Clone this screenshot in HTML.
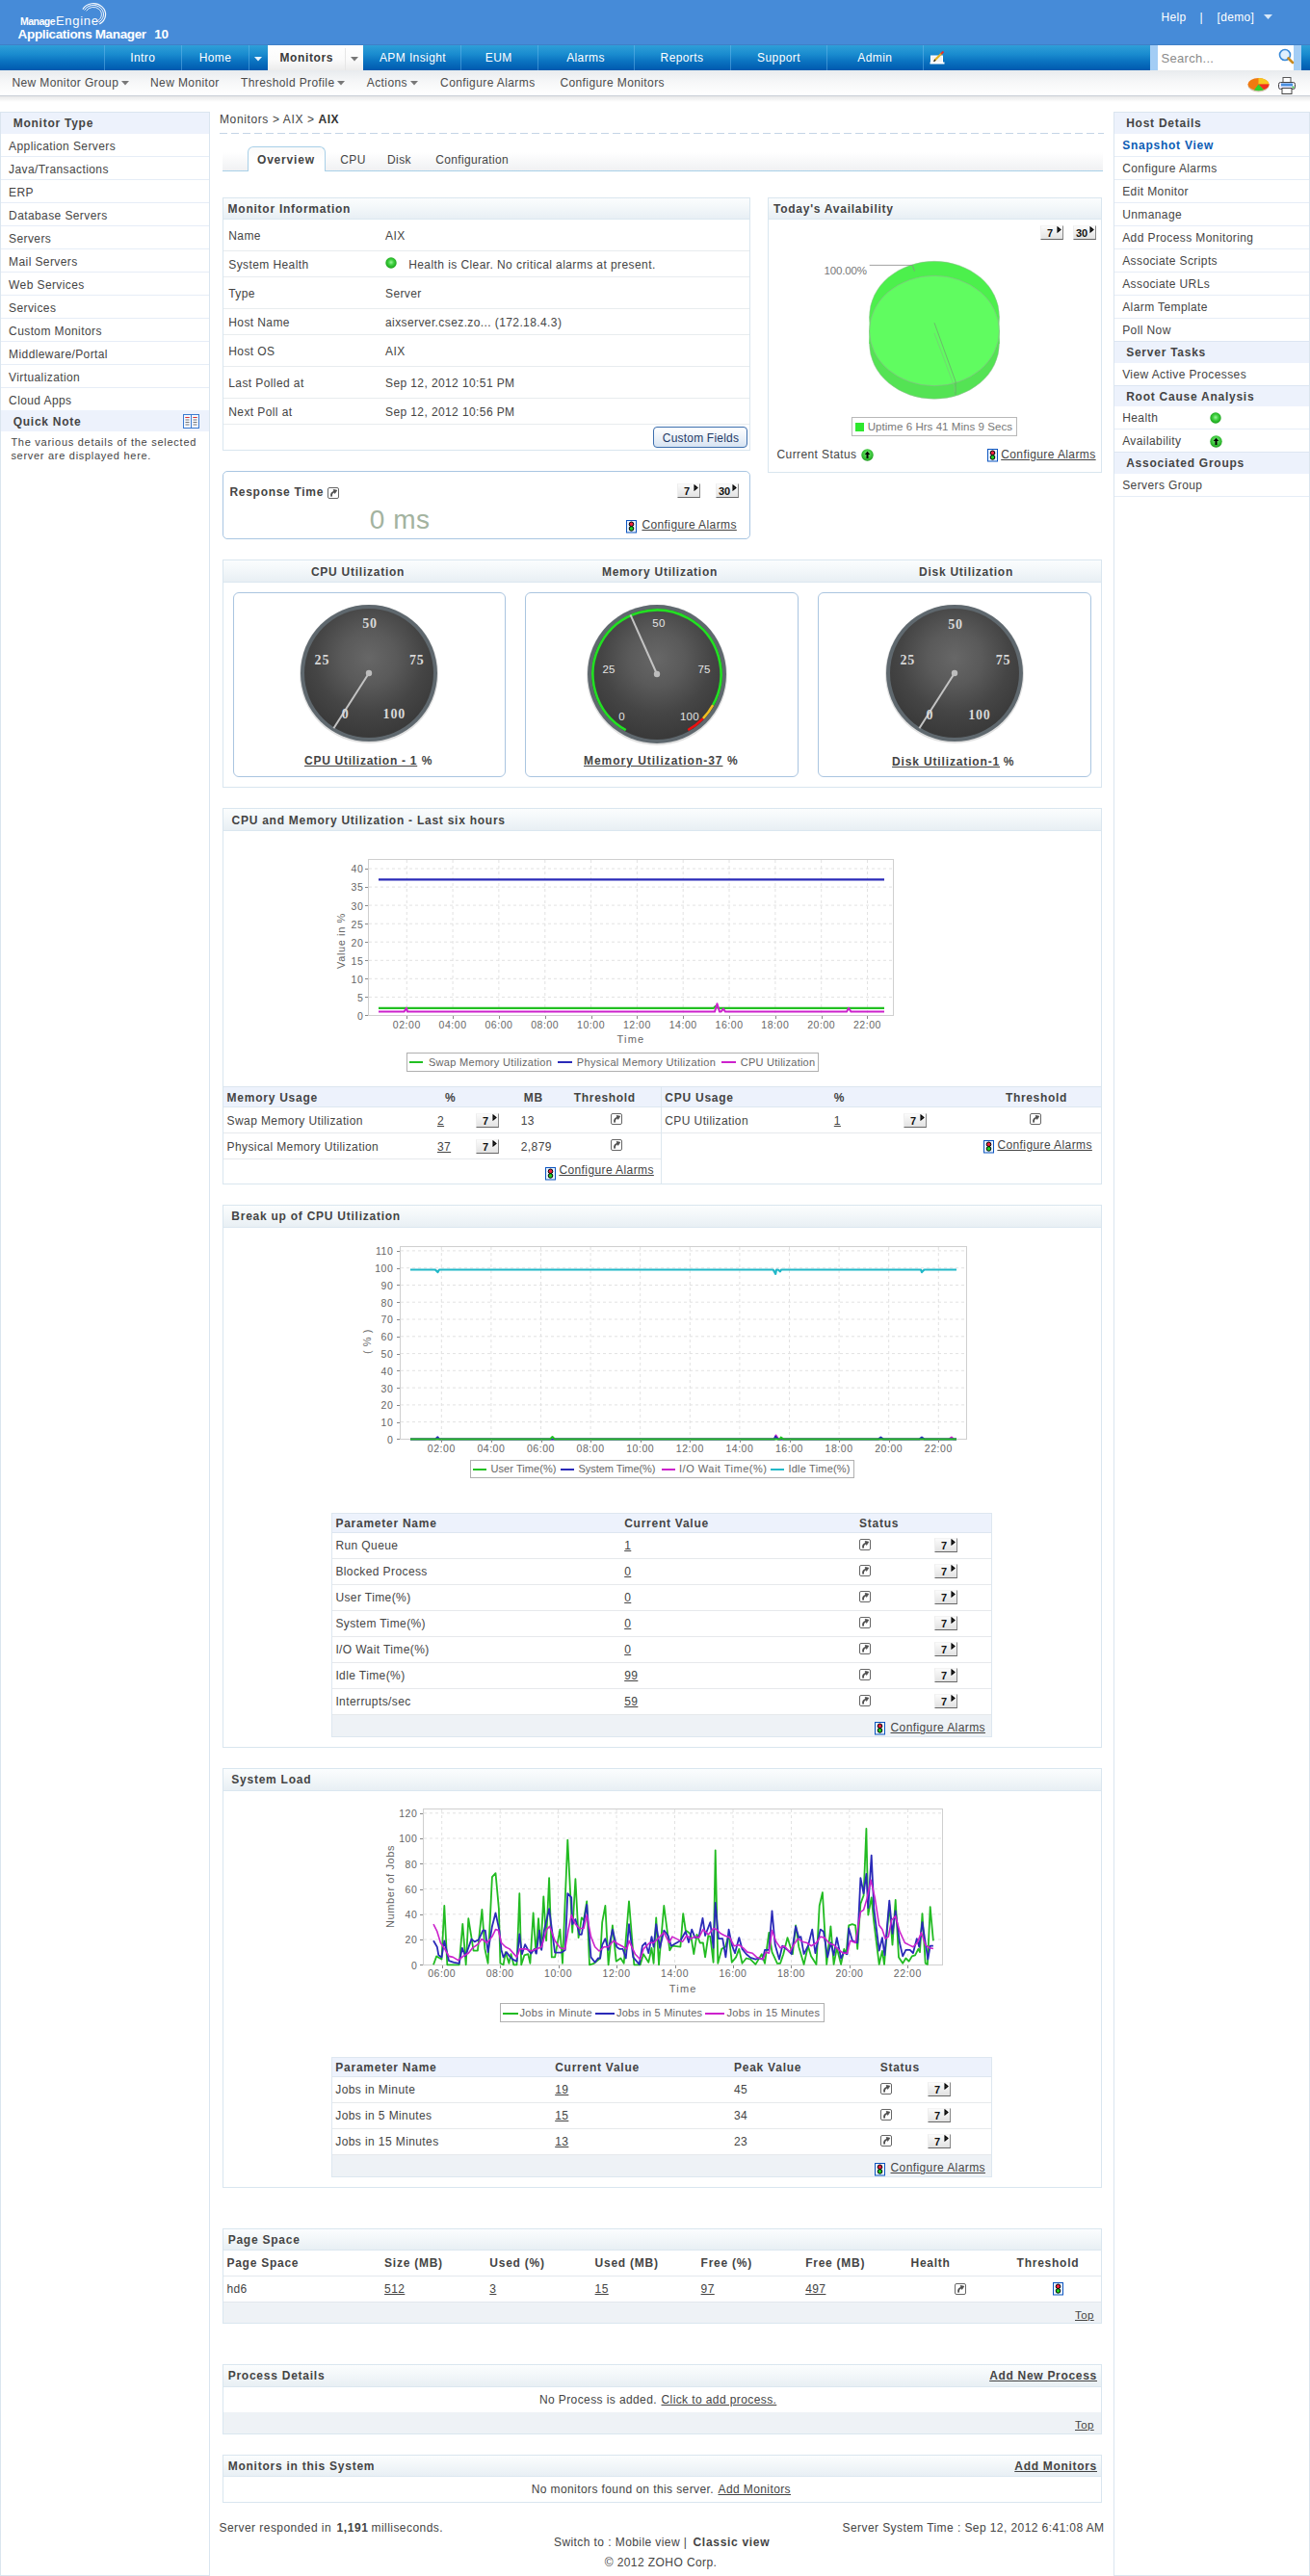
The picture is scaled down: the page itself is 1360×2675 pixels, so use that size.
<!DOCTYPE html>
<html><head><meta charset="utf-8"><title>Applications Manager - AIX</title>
<style>
html,body{margin:0;padding:0;background:#fff;}
body{width:1360px;height:2675px;position:relative;overflow:hidden;font-family:"Liberation Sans",sans-serif;}
.t{position:absolute;white-space:nowrap;margin:0;padding:0;}
.r{position:absolute;display:block;}
</style></head><body>
<div class="r" style="left:0px;top:0px;width:1360px;height:47px;background:#468bd8;"></div>
<div class="r" style="left:0px;top:46px;width:1360px;height:1px;background:#3f7fc6;"></div>
<div class="t" style="left:21.00px;top:16.61px;font-size:10.5px;line-height:10.5px;color:#fff;font-weight:bold;letter-spacing:-0.519px;">Manage</div>
<div class="t" style="left:58.00px;top:14.50px;font-size:13px;line-height:13px;color:#fff;letter-spacing:0.704px;">Engine</div>
<svg class="r" style="left:84px;top:0px;" width="28" height="28" viewBox="0 0 28 28"><path d="M5.6 11.4 A8.4 7.6 0 1 1 17.2 21.6" stroke="#fff" stroke-width="0.9" fill="none" opacity="0.95"/><path d="M3.7 10.5 A10.5 9.5 0 1 1 18.2 23.2" stroke="#fff" stroke-width="1.0" fill="none" opacity="0.95"/><path d="M1.9 9.6 A12.6 11.4 0 1 1 19.3 24.9" stroke="#fff" stroke-width="1.2" fill="none" opacity="0.95"/></svg>
<div class="t" style="left:18.60px;top:29.07px;font-size:13.5px;line-height:13.5px;color:#fff;font-weight:bold;letter-spacing:-0.357px;">Applications Manager</div>
<div class="t" style="left:160.30px;top:29.07px;font-size:13.5px;line-height:13.5px;color:#fff;font-weight:bold;letter-spacing:-0.317px;">10</div>
<div class="t" style="left:1205.50px;top:11.64px;font-size:12px;line-height:12px;color:#fff;letter-spacing:0.3px;">Help</div>
<div class="t" style="left:1245.50px;top:11.64px;font-size:12px;line-height:12px;color:#fff;">|</div>
<div class="t" style="left:1263.50px;top:11.64px;font-size:12px;line-height:12px;color:#fff;letter-spacing:0.35px;">[demo]</div>
<svg class="r" style="left:1312px;top:15px;" width="9" height="5" viewBox="0 0 9 5"><path d="M0 0 L9 0 L4.5 5 Z" fill="#d8e8f8"/></svg>
<div class="r" style="left:0px;top:47px;width:1360px;height:26px;background:linear-gradient(#2f9fd8 0%,#1a8ccf 35%,#0a72c0 65%,#0059ae 100%);"></div>
<div class="r" style="left:108px;top:47px;width:1px;height:26px;background:rgba(120,190,240,0.45);"></div>
<div class="r" style="left:188px;top:47px;width:1px;height:26px;background:rgba(120,190,240,0.45);"></div>
<div class="r" style="left:258px;top:47px;width:1px;height:26px;background:rgba(120,190,240,0.45);"></div>
<div class="r" style="left:358px;top:47px;width:1px;height:26px;background:rgba(120,190,240,0.45);"></div>
<div class="r" style="left:478px;top:47px;width:1px;height:26px;background:rgba(120,190,240,0.45);"></div>
<div class="r" style="left:558px;top:47px;width:1px;height:26px;background:rgba(120,190,240,0.45);"></div>
<div class="r" style="left:658px;top:47px;width:1px;height:26px;background:rgba(120,190,240,0.45);"></div>
<div class="r" style="left:758px;top:47px;width:1px;height:26px;background:rgba(120,190,240,0.45);"></div>
<div class="r" style="left:858px;top:47px;width:1px;height:26px;background:rgba(120,190,240,0.45);"></div>
<div class="r" style="left:958px;top:47px;width:1px;height:26px;background:rgba(120,190,240,0.45);"></div>
<div class="r" style="left:278px;top:47px;width:99px;height:26px;background:linear-gradient(#ffffff 0%,#fbfbfb 55%,#ececec 100%);"></div>
<div class="r" style="left:358px;top:50px;width:1px;height:23px;background:#e6e6e6;"></div>
<div class="t" style="left:148.25px;top:54.34px;font-size:12px;line-height:12px;color:#fff;letter-spacing:0.4px;transform:translateX(-50%);">Intro</div>
<div class="t" style="left:223.50px;top:54.34px;font-size:12px;line-height:12px;color:#fff;letter-spacing:0.4px;transform:translateX(-50%);">Home</div>
<div class="t" style="left:428.50px;top:54.34px;font-size:12px;line-height:12px;color:#fff;letter-spacing:0.4px;transform:translateX(-50%);">APM Insight</div>
<div class="t" style="left:517.75px;top:54.34px;font-size:12px;line-height:12px;color:#fff;letter-spacing:0.4px;transform:translateX(-50%);">EUM</div>
<div class="t" style="left:608.00px;top:54.34px;font-size:12px;line-height:12px;color:#fff;letter-spacing:0.4px;transform:translateX(-50%);">Alarms</div>
<div class="t" style="left:708.00px;top:54.34px;font-size:12px;line-height:12px;color:#fff;letter-spacing:0.4px;transform:translateX(-50%);">Reports</div>
<div class="t" style="left:808.50px;top:54.34px;font-size:12px;line-height:12px;color:#fff;letter-spacing:0.4px;transform:translateX(-50%);">Support</div>
<div class="t" style="left:908.35px;top:54.34px;font-size:12px;line-height:12px;color:#fff;letter-spacing:0.4px;transform:translateX(-50%);">Admin</div>
<div class="t" style="left:318.25px;top:54.14px;font-size:12px;line-height:12px;color:#3a3a3a;font-weight:bold;letter-spacing:0.6px;transform:translateX(-50%);">Monitors</div>
<svg class="r" style="left:264px;top:59px;" width="8" height="5" viewBox="0 0 8 5"><path d="M0 0 L8 0 L4 4.5 Z" fill="#e8f4ff"/></svg>
<svg class="r" style="left:364px;top:59px;" width="8" height="5" viewBox="0 0 8 5"><path d="M0 0 L8 0 L4 4.5 Z" fill="#777"/></svg>
<svg class="r" style="left:965px;top:53px;" width="18" height="14" viewBox="0 0 18 14"><rect x="1.5" y="5" width="12" height="7" fill="#f2f2f2" stroke="#fff"/><rect x="0.5" y="11.5" width="15" height="2" fill="#fff"/><path d="M5 10 L13 2" stroke="#e0b020" stroke-width="2.2"/><path d="M12 3 L14.5 0.5" stroke="#e03030" stroke-width="2"/><path d="M4.5 10.8 L6 9" stroke="#222" stroke-width="1.2"/></svg>
<div class="r" style="left:1194px;top:47px;width:157px;height:26px;background:#a3cdf5;"></div>
<div class="r" style="left:1202px;top:47px;width:141px;height:26px;background:#fff;"></div>
<div class="t" style="left:1205.50px;top:54.10px;font-size:13px;line-height:13px;color:#8a8a8a;letter-spacing:0.3px;">Search...</div>
<svg class="r" style="left:1327px;top:50px;" width="17" height="17" viewBox="0 0 17 17"><circle cx="7" cy="7" r="5.5" fill="#dff0ff" stroke="#3a8ad8" stroke-width="1.6"/><path d="M10.5 10.5 L15 15" stroke="#c98a20" stroke-width="2.6" stroke-linecap="round"/></svg>
<div class="r" style="left:0px;top:73px;width:1360px;height:26px;background:linear-gradient(#e8ebee 0%,#f6f7f8 45%,#ffffff 100%);"></div>
<div class="r" style="left:0px;top:99px;width:1360px;height:1px;background:#c9ced6;"></div>
<div class="r" style="left:0px;top:100px;width:1360px;height:6px;background:linear-gradient(rgba(0,0,0,0.09),rgba(0,0,0,0));"></div>
<div class="t" style="left:12.40px;top:80.24px;font-size:12px;line-height:12px;color:#4a4a4a;letter-spacing:0.4px;">New Monitor Group</div>
<svg class="r" style="left:126px;top:84px;" width="8" height="5" viewBox="0 0 8 5"><path d="M0 0 L8 0 L4 4.5 Z" fill="#777"/></svg>
<div class="t" style="left:156.00px;top:80.24px;font-size:12px;line-height:12px;color:#4a4a4a;letter-spacing:0.4px;">New Monitor</div>
<div class="t" style="left:250.00px;top:80.24px;font-size:12px;line-height:12px;color:#4a4a4a;letter-spacing:0.4px;">Threshold Profile</div>
<svg class="r" style="left:350px;top:84px;" width="8" height="5" viewBox="0 0 8 5"><path d="M0 0 L8 0 L4 4.5 Z" fill="#777"/></svg>
<div class="t" style="left:380.80px;top:80.24px;font-size:12px;line-height:12px;color:#4a4a4a;letter-spacing:0.4px;">Actions</div>
<svg class="r" style="left:426px;top:84px;" width="8" height="5" viewBox="0 0 8 5"><path d="M0 0 L8 0 L4 4.5 Z" fill="#777"/></svg>
<div class="t" style="left:457.10px;top:80.24px;font-size:12px;line-height:12px;color:#4a4a4a;letter-spacing:0.4px;">Configure Alarms</div>
<div class="t" style="left:581.40px;top:80.24px;font-size:12px;line-height:12px;color:#4a4a4a;letter-spacing:0.4px;">Configure Monitors</div>
<svg class="r" style="left:1295px;top:80px;" width="23" height="16" viewBox="0 0 23 16"><ellipse cx="11.5" cy="9" rx="11" ry="6.5" fill="#8a5a20" opacity="0.35"/><ellipse cx="11.5" cy="7.5" rx="11" ry="6.5" fill="#f07a10"/><path d="M11.5 7.5 L11.5 1 A11 6.5 0 0 1 22.5 7.5 Z" fill="#f8c820"/><path d="M11.5 7.5 L22.5 7.5 A11 6.5 0 0 1 17 13 Z" fill="#f03020"/><path d="M11.5 7.5 L17 13.2 A11 6.5 0 0 1 7 13.6 Z" fill="#30d030"/></svg>
<svg class="r" style="left:1327px;top:80px;" width="18" height="18" viewBox="0 0 18 18"><rect x="5" y="0.5" width="8" height="6" fill="#fff" stroke="#555"/><rect x="0.5" y="5.5" width="17" height="7" rx="2" fill="#eef" stroke="#444"/><rect x="3" y="6.5" width="12" height="3" fill="#4a90e0"/><rect x="4" y="11.5" width="10" height="6" fill="#fff" stroke="#444"/><circle cx="15.5" cy="10.5" r="1" fill="#3c3"/></svg>
<div class="r" style="left:0px;top:116px;width:218px;height:2559px;border:1px solid #dae5ef;box-sizing:border-box;"></div>
<div class="r" style="left:1px;top:117px;width:216px;height:22px;background:#edf2fc;"></div>
<div class="t" style="left:13.70px;top:122.34px;font-size:12px;line-height:12px;color:#444;font-weight:bold;letter-spacing:0.75px;">Monitor Type</div>
<div class="t" style="left:9.10px;top:145.64px;font-size:12px;line-height:12px;color:#444;letter-spacing:0.4px;">Application Servers</div>
<div class="r" style="left:1px;top:162px;width:216px;height:1px;background:#e6edf7;"></div>
<div class="t" style="left:9.10px;top:169.64px;font-size:12px;line-height:12px;color:#444;letter-spacing:0.4px;">Java/Transactions</div>
<div class="r" style="left:1px;top:186px;width:216px;height:1px;background:#e6edf7;"></div>
<div class="t" style="left:9.10px;top:193.64px;font-size:12px;line-height:12px;color:#444;letter-spacing:0.4px;">ERP</div>
<div class="r" style="left:1px;top:210px;width:216px;height:1px;background:#e6edf7;"></div>
<div class="t" style="left:9.10px;top:217.64px;font-size:12px;line-height:12px;color:#444;letter-spacing:0.4px;">Database Servers</div>
<div class="r" style="left:1px;top:234px;width:216px;height:1px;background:#e6edf7;"></div>
<div class="t" style="left:9.10px;top:241.64px;font-size:12px;line-height:12px;color:#444;letter-spacing:0.4px;">Servers</div>
<div class="r" style="left:1px;top:258px;width:216px;height:1px;background:#e6edf7;"></div>
<div class="t" style="left:9.10px;top:265.64px;font-size:12px;line-height:12px;color:#444;letter-spacing:0.4px;">Mail Servers</div>
<div class="r" style="left:1px;top:282px;width:216px;height:1px;background:#e6edf7;"></div>
<div class="t" style="left:9.10px;top:289.64px;font-size:12px;line-height:12px;color:#444;letter-spacing:0.4px;">Web Services</div>
<div class="r" style="left:1px;top:306px;width:216px;height:1px;background:#e6edf7;"></div>
<div class="t" style="left:9.10px;top:313.64px;font-size:12px;line-height:12px;color:#444;letter-spacing:0.4px;">Services</div>
<div class="r" style="left:1px;top:330px;width:216px;height:1px;background:#e6edf7;"></div>
<div class="t" style="left:9.10px;top:337.64px;font-size:12px;line-height:12px;color:#444;letter-spacing:0.4px;">Custom Monitors</div>
<div class="r" style="left:1px;top:354px;width:216px;height:1px;background:#e6edf7;"></div>
<div class="t" style="left:9.10px;top:361.64px;font-size:12px;line-height:12px;color:#444;letter-spacing:0.4px;">Middleware/Portal</div>
<div class="r" style="left:1px;top:378px;width:216px;height:1px;background:#e6edf7;"></div>
<div class="t" style="left:9.10px;top:385.64px;font-size:12px;line-height:12px;color:#444;letter-spacing:0.4px;">Virtualization</div>
<div class="r" style="left:1px;top:402px;width:216px;height:1px;background:#e6edf7;"></div>
<div class="t" style="left:9.10px;top:409.64px;font-size:12px;line-height:12px;color:#444;letter-spacing:0.4px;">Cloud Apps</div>
<div class="r" style="left:1px;top:426px;width:216px;height:1px;background:#e6edf7;"></div>
<div class="r" style="left:1px;top:426px;width:216px;height:22px;background:#edf2fc;"></div>
<div class="t" style="left:13.70px;top:432.14px;font-size:12px;line-height:12px;color:#444;font-weight:bold;letter-spacing:0.75px;">Quick Note</div>
<svg class="r" style="left:190px;top:430px;" width="17" height="15" viewBox="0 0 17 15"><rect x="0.5" y="0.5" width="16" height="14" fill="#f4f8ff" stroke="#3a7ad0"/><line x1="8.5" y1="1" x2="8.5" y2="14" stroke="#3a7ad0"/><path d="M2.5 3.5h4M2.5 6h4M2.5 8.5h4M2.5 11h4M10.5 3.5h4M10.5 6h4M10.5 8.5h4M10.5 11h4" stroke="#777" stroke-width="1"/><path d="M2.5 3.5h4M10.5 3.5h4" stroke="#e03030"/></svg>
<div class="t" style="left:11.40px;top:454.09px;font-size:11px;line-height:11px;color:#444;letter-spacing:0.737px;">The various details of the selected</div>
<div class="t" style="left:11.40px;top:468.09px;font-size:11px;line-height:11px;color:#444;letter-spacing:0.713px;">server are displayed here.</div>
<div class="r" style="left:1156px;top:116px;width:204px;height:2559px;border:1px solid #dae5ef;box-sizing:border-box;"></div>
<div class="r" style="left:1157px;top:117px;width:202px;height:22px;background:#edf2fc;"></div>
<div class="t" style="left:1169.20px;top:121.94px;font-size:12px;line-height:12px;color:#444;font-weight:bold;letter-spacing:0.75px;">Host Details</div>
<div class="t" style="left:1165.20px;top:145.34px;font-size:12px;line-height:12px;color:#0b5cb4;font-weight:bold;letter-spacing:0.75px;">Snapshot View</div>
<div class="r" style="left:1157px;top:162px;width:202px;height:1px;background:#e6edf7;"></div>
<div class="t" style="left:1165.20px;top:169.34px;font-size:12px;line-height:12px;color:#444;letter-spacing:0.4px;">Configure Alarms</div>
<div class="r" style="left:1157px;top:186px;width:202px;height:1px;background:#e6edf7;"></div>
<div class="t" style="left:1165.20px;top:193.34px;font-size:12px;line-height:12px;color:#444;letter-spacing:0.4px;">Edit Monitor</div>
<div class="r" style="left:1157px;top:210px;width:202px;height:1px;background:#e6edf7;"></div>
<div class="t" style="left:1165.20px;top:217.34px;font-size:12px;line-height:12px;color:#444;letter-spacing:0.4px;">Unmanage</div>
<div class="r" style="left:1157px;top:234px;width:202px;height:1px;background:#e6edf7;"></div>
<div class="t" style="left:1165.20px;top:241.34px;font-size:12px;line-height:12px;color:#444;letter-spacing:0.4px;">Add Process Monitoring</div>
<div class="r" style="left:1157px;top:258px;width:202px;height:1px;background:#e6edf7;"></div>
<div class="t" style="left:1165.20px;top:265.34px;font-size:12px;line-height:12px;color:#444;letter-spacing:0.4px;">Associate Scripts</div>
<div class="r" style="left:1157px;top:282px;width:202px;height:1px;background:#e6edf7;"></div>
<div class="t" style="left:1165.20px;top:289.34px;font-size:12px;line-height:12px;color:#444;letter-spacing:0.4px;">Associate URLs</div>
<div class="r" style="left:1157px;top:306px;width:202px;height:1px;background:#e6edf7;"></div>
<div class="t" style="left:1165.20px;top:313.34px;font-size:12px;line-height:12px;color:#444;letter-spacing:0.4px;">Alarm Template</div>
<div class="r" style="left:1157px;top:330px;width:202px;height:1px;background:#e6edf7;"></div>
<div class="t" style="left:1165.20px;top:337.34px;font-size:12px;line-height:12px;color:#444;letter-spacing:0.4px;">Poll Now</div>
<div class="r" style="left:1157px;top:354px;width:202px;height:1px;background:#dde6f2;"></div>
<div class="r" style="left:1157px;top:355px;width:202px;height:22px;background:#edf2fc;"></div>
<div class="t" style="left:1169.20px;top:360.04px;font-size:12px;line-height:12px;color:#444;font-weight:bold;letter-spacing:0.75px;">Server Tasks</div>
<div class="t" style="left:1165.20px;top:382.94px;font-size:12px;line-height:12px;color:#444;letter-spacing:0.4px;">View Active Processes</div>
<div class="r" style="left:1157px;top:400px;width:202px;height:1px;background:#dde6f2;"></div>
<div class="r" style="left:1157px;top:401px;width:202px;height:21px;background:#edf2fc;"></div>
<div class="t" style="left:1169.20px;top:405.64px;font-size:12px;line-height:12px;color:#444;font-weight:bold;letter-spacing:0.75px;">Root Cause Analysis</div>
<div class="t" style="left:1165.20px;top:427.84px;font-size:12px;line-height:12px;color:#444;letter-spacing:0.4px;">Health</div>
<svg class="r" style="left:1256px;top:428px;" width="12" height="12" viewBox="0 0 12 12"><defs><radialGradient id="hg1256428" cx="50%" cy="45%" r="55%"><stop offset="0" stop-color="#9af59a"/><stop offset="0.45" stop-color="#3fcf3f"/><stop offset="1" stop-color="#17a017"/></radialGradient></defs><circle cx="6.0" cy="6.0" r="5.7" fill="url(#hg1256428)"/></svg>
<div class="r" style="left:1157px;top:445px;width:202px;height:1px;background:#e6edf7;"></div>
<div class="t" style="left:1165.20px;top:451.84px;font-size:12px;line-height:12px;color:#444;letter-spacing:0.4px;">Availability</div>
<svg class="r" style="left:1256px;top:452px;" width="13" height="13" viewBox="0 0 13 13"><defs><radialGradient id="ug1256452" cx="50%" cy="40%" r="60%"><stop offset="0" stop-color="#7fe87f"/><stop offset="0.6" stop-color="#3cc83c"/><stop offset="1" stop-color="#1e9a1e"/></radialGradient></defs><circle cx="6.5" cy="6.5" r="6.2" fill="url(#ug1256452)"/><path d="M6.5 2.7 L9.3 5.9 L7.5 5.9 L7.5 10.1 L5.5 10.1 L5.5 5.9 L3.7 5.9 Z" fill="#000"/></svg>
<div class="r" style="left:1157px;top:469px;width:202px;height:1px;background:#dde6f2;"></div>
<div class="r" style="left:1157px;top:470px;width:202px;height:22px;background:#edf2fc;"></div>
<div class="t" style="left:1169.20px;top:475.44px;font-size:12px;line-height:12px;color:#444;font-weight:bold;letter-spacing:0.75px;">Associated Groups</div>
<div class="t" style="left:1165.20px;top:497.84px;font-size:12px;line-height:12px;color:#444;letter-spacing:0.4px;">Servers Group</div>
<div class="r" style="left:1157px;top:515px;width:202px;height:1px;background:#e6edf7;"></div>
<div class="t" style="left:228.00px;top:118.34px;font-size:12px;line-height:12px;color:#444;letter-spacing:0.619px;">Monitors &gt; AIX &gt;</div>
<div class="t" style="left:330.50px;top:118.34px;font-size:12px;line-height:12px;color:#333;font-weight:bold;letter-spacing:0.5px;">AIX</div>
<div class="r" style="left:228px;top:138px;width:918px;height:1px;background:repeating-linear-gradient(90deg,#c5d5e6 0 8px,transparent 8px 12px);"></div>
<div class="r" style="left:231px;top:158px;width:914px;height:19px;background:linear-gradient(rgba(255,255,255,1),#f0f1f3);"></div>
<div class="r" style="left:231px;top:177px;width:914px;height:1px;background:#a9d0e8;"></div>
<div class="r" style="left:257px;top:152px;width:81px;height:26px;box-sizing:border-box;border:1px solid #a9d0e8;border-bottom:none;border-radius:6px 6px 0 0;background:linear-gradient(#fafafa,#fff 60%);"></div>
<div class="t" style="left:267.00px;top:160.14px;font-size:12px;line-height:12px;color:#444;font-weight:bold;letter-spacing:0.8px;">Overview</div>
<div class="t" style="left:353.20px;top:160.14px;font-size:12px;line-height:12px;color:#444;letter-spacing:0.4px;">CPU</div>
<div class="t" style="left:402.00px;top:160.14px;font-size:12px;line-height:12px;color:#444;letter-spacing:0.4px;">Disk</div>
<div class="t" style="left:452.20px;top:160.14px;font-size:12px;line-height:12px;color:#444;letter-spacing:0.35px;">Configuration</div>
<div class="r" style="left:231px;top:205px;width:548px;height:263px;border:1px solid #d9e6ef;box-sizing:border-box;"></div>
<div class="r" style="left:232px;top:206px;width:546px;height:21px;background:linear-gradient(#fbfdfe 0%,#f4f8fa 40%,#e8eff4 100%);"></div>
<div class="r" style="left:232px;top:227px;width:546px;height:1px;background:#dbe7f0;"></div>
<div class="t" style="left:236.60px;top:210.94px;font-size:12px;line-height:12px;color:#444;font-weight:bold;letter-spacing:0.75px;">Monitor Information</div>
<div class="t" style="left:237.30px;top:239.04px;font-size:12px;line-height:12px;color:#444;letter-spacing:0.4px;">Name</div>
<div class="t" style="left:400.00px;top:239.04px;font-size:12px;line-height:12px;color:#444;letter-spacing:0.4px;">AIX</div>
<div class="r" style="left:232px;top:260px;width:546px;height:1px;background:#e8ecef;"></div>
<div class="t" style="left:237.30px;top:269.14px;font-size:12px;line-height:12px;color:#444;letter-spacing:0.4px;">System Health</div>
<div class="r" style="left:232px;top:287px;width:546px;height:1px;background:#e8ecef;"></div>
<div class="t" style="left:237.30px;top:299.14px;font-size:12px;line-height:12px;color:#444;letter-spacing:0.4px;">Type</div>
<div class="t" style="left:400.00px;top:299.14px;font-size:12px;line-height:12px;color:#444;letter-spacing:0.4px;">Server</div>
<div class="r" style="left:232px;top:320px;width:546px;height:1px;background:#e8ecef;"></div>
<div class="t" style="left:237.30px;top:328.94px;font-size:12px;line-height:12px;color:#444;letter-spacing:0.4px;">Host Name</div>
<div class="t" style="left:400.00px;top:328.94px;font-size:12px;line-height:12px;color:#444;letter-spacing:0.4px;">aixserver.csez.zo... (172.18.4.3)</div>
<div class="r" style="left:232px;top:347px;width:546px;height:1px;background:#e8ecef;"></div>
<div class="t" style="left:237.30px;top:359.34px;font-size:12px;line-height:12px;color:#444;letter-spacing:0.4px;">Host OS</div>
<div class="t" style="left:400.00px;top:359.34px;font-size:12px;line-height:12px;color:#444;letter-spacing:0.4px;">AIX</div>
<div class="r" style="left:232px;top:380px;width:546px;height:1px;background:#e8ecef;"></div>
<div class="t" style="left:237.30px;top:392.14px;font-size:12px;line-height:12px;color:#444;letter-spacing:0.4px;">Last Polled at</div>
<div class="t" style="left:400.00px;top:392.14px;font-size:12px;line-height:12px;color:#444;letter-spacing:0.4px;">Sep 12, 2012 10:51 PM</div>
<div class="r" style="left:232px;top:413px;width:546px;height:1px;background:#e8ecef;"></div>
<div class="t" style="left:237.30px;top:421.94px;font-size:12px;line-height:12px;color:#444;letter-spacing:0.4px;">Next Poll at</div>
<div class="t" style="left:400.00px;top:421.94px;font-size:12px;line-height:12px;color:#444;letter-spacing:0.4px;">Sep 12, 2012 10:56 PM</div>
<div class="r" style="left:232px;top:440px;width:546px;height:1px;background:#e8ecef;"></div>
<svg class="r" style="left:400px;top:267px;" width="12" height="12" viewBox="0 0 12 12"><defs><radialGradient id="hg400267" cx="50%" cy="45%" r="55%"><stop offset="0" stop-color="#9af59a"/><stop offset="0.45" stop-color="#3fcf3f"/><stop offset="1" stop-color="#17a017"/></radialGradient></defs><circle cx="6.0" cy="6.0" r="5.7" fill="url(#hg400267)"/></svg>
<div class="t" style="left:424.20px;top:269.14px;font-size:12px;line-height:12px;color:#444;letter-spacing:0.42px;">Health is Clear. No critical alarms at present.</div>
<div class="r" style="left:678px;top:443px;width:98px;height:22px;box-sizing:border-box;border:1px solid #3d6fae;border-radius:4px;background:linear-gradient(#ffffff,#e9f0f8 60%,#d6e3f2);"></div>
<div class="t" style="left:687.80px;top:449.24px;font-size:12px;line-height:12px;color:#1f3a66;letter-spacing:0.2px;">Custom Fields</div>
<div class="r" style="left:797px;top:205px;width:347px;height:286px;border:1px solid #d9e6ef;box-sizing:border-box;"></div>
<div class="r" style="left:798px;top:206px;width:345px;height:21px;background:linear-gradient(#fbfdfe 0%,#f4f8fa 40%,#e8eff4 100%);"></div>
<div class="r" style="left:798px;top:227px;width:345px;height:1px;background:#dbe7f0;"></div>
<div class="t" style="left:803.00px;top:211.14px;font-size:12px;line-height:12px;color:#444;font-weight:bold;letter-spacing:0.75px;">Today's Availability</div>
<div class="r" style="left:1080px;top:234px;width:24px;height:15px;box-sizing:border-box;background:linear-gradient(#fbfbfb,#e2e2e2);border-top:1px solid #f4f4f4;border-left:1px solid #eee;border-right:1px solid #888;border-bottom:1px solid #666;"></div>
<div class="t" style="left:1090.00px;top:237.19px;font-size:11px;line-height:11px;color:#111;font-weight:bold;transform:translateX(-50%);">7</div>
<svg class="r" style="left:1097px;top:235px;" width="5" height="7" viewBox="0 0 5 7"><path d="M1 1 L4 3.5 L1 6 Z" fill="#444" stroke="#000" stroke-width="1.1"/></svg>
<div class="r" style="left:1114px;top:234px;width:24px;height:15px;box-sizing:border-box;background:linear-gradient(#fbfbfb,#e2e2e2);border-top:1px solid #f4f4f4;border-left:1px solid #eee;border-right:1px solid #888;border-bottom:1px solid #666;"></div>
<div class="t" style="left:1123.00px;top:237.19px;font-size:11px;line-height:11px;color:#111;font-weight:bold;transform:translateX(-50%);">30</div>
<svg class="r" style="left:1131px;top:235px;" width="5" height="7" viewBox="0 0 5 7"><path d="M1 1 L4 3.5 L1 6 Z" fill="#444" stroke="#000" stroke-width="1.1"/></svg>
<svg class="r" style="left:850px;top:255px;" width="220" height="175" viewBox="0 0 220 175"><ellipse cx="120" cy="102.1" rx="67.4" ry="57.2" fill="#54e354" stroke="#9ab89a" stroke-width="0.5"/><rect x="52.6" y="73.5" width="134.8" height="28.6" fill="#54e354"/><ellipse cx="120" cy="73.5" rx="67.4" ry="57.2" fill="#4cf04c" stroke="#9ab89a" stroke-width="0.5"/><rect x="52.6" y="88" width="134.8" height="14" fill="#54e354"/><ellipse cx="120" cy="88.5" rx="67.4" ry="57.2" fill="#60fc60" stroke="#8fb08f" stroke-width="0.6"/><path d="M120 80.2 L142 141 L142 155" stroke="#6f9f6f" stroke-width="0.7" fill="none"/><path d="M120 91 L141 147 L141 152" stroke="#78c878" stroke-width="0.7" fill="none"/><path d="M52.7 20.4 L97.3 20.4 L99.4 26.6" stroke="#8a8a8a" stroke-width="0.8" fill="none"/></svg>
<div class="t" style="left:855.40px;top:276.37px;font-size:11.5px;line-height:11.5px;color:#777;letter-spacing:-0.133px;">100.00%</div>
<div class="r" style="left:884px;top:433px;width:172px;height:20px;box-sizing:border-box;border:1px solid #b8b8b8;background:#fff;"></div>
<div class="r" style="left:888px;top:439px;width:9px;height:9px;background:#2ee82e;"></div>
<div class="t" style="left:900.70px;top:437.97px;font-size:11.5px;line-height:11.5px;color:#777;letter-spacing:0.053px;">Uptime 6 Hrs 41 Mins 9 Secs</div>
<div class="t" style="left:806.50px;top:465.94px;font-size:12px;line-height:12px;color:#444;letter-spacing:0.4px;">Current Status</div>
<svg class="r" style="left:894px;top:466px;" width="13" height="13" viewBox="0 0 13 13"><defs><radialGradient id="ug894466" cx="50%" cy="40%" r="60%"><stop offset="0" stop-color="#7fe87f"/><stop offset="0.6" stop-color="#3cc83c"/><stop offset="1" stop-color="#1e9a1e"/></radialGradient></defs><circle cx="6.5" cy="6.5" r="6.2" fill="url(#ug894466)"/><path d="M6.5 2.7 L9.3 5.9 L7.5 5.9 L7.5 10.1 L5.5 10.1 L5.5 5.9 L3.7 5.9 Z" fill="#000"/></svg>
<svg class="r" style="left:1025px;top:466px;" width="11" height="14" viewBox="0 0 11 14"><rect x="0.5" y="0.5" width="10" height="12.5" fill="#eaf4ff" stroke="#0d55c0"/><circle cx="5.5" cy="4.3" r="2.3" fill="#f02040" stroke="#000" stroke-width="1"/><circle cx="5.5" cy="8.9" r="2.3" fill="#20d020" stroke="#000" stroke-width="1"/></svg>
<div class="t" style="left:1039.20px;top:465.94px;font-size:12px;line-height:12px;color:#444;letter-spacing:0.4px;text-decoration:underline;">Configure Alarms</div>
<div class="r" style="left:231px;top:489px;width:548px;height:71px;border:1px solid #a9c6e2;box-sizing:border-box;border-radius:5px;"></div>
<div class="t" style="left:238.50px;top:505.14px;font-size:12px;line-height:12px;color:#444;font-weight:bold;letter-spacing:0.7px;">Response Time</div>
<svg class="r" style="left:340px;top:506px;" width="12" height="12" viewBox="0 0 12 12"><rect x="0.5" y="0.5" width="11" height="11" rx="1.5" fill="#fff" stroke="#666"/><path d="M4.2 9.6 Q3.2 5.6 7.6 4.4" stroke="#505050" stroke-width="1.8" fill="none"/><path d="M6.2 2.4 L9.8 3.2 L7.6 6.4 Z" fill="#505050" stroke="#505050" stroke-width="0.8"/></svg>
<div class="t" style="left:383.80px;top:526.30px;font-size:28px;line-height:28px;color:#a3b3a0;letter-spacing:0.5px;">0 ms</div>
<div class="r" style="left:703px;top:502px;width:24px;height:15px;box-sizing:border-box;background:linear-gradient(#fbfbfb,#e2e2e2);border-top:1px solid #f4f4f4;border-left:1px solid #eee;border-right:1px solid #888;border-bottom:1px solid #666;"></div>
<div class="t" style="left:713.00px;top:505.19px;font-size:11px;line-height:11px;color:#111;font-weight:bold;transform:translateX(-50%);">7</div>
<svg class="r" style="left:720px;top:503px;" width="5" height="7" viewBox="0 0 5 7"><path d="M1 1 L4 3.5 L1 6 Z" fill="#444" stroke="#000" stroke-width="1.1"/></svg>
<div class="r" style="left:743px;top:502px;width:24px;height:15px;box-sizing:border-box;background:linear-gradient(#fbfbfb,#e2e2e2);border-top:1px solid #f4f4f4;border-left:1px solid #eee;border-right:1px solid #888;border-bottom:1px solid #666;"></div>
<div class="t" style="left:752.00px;top:505.19px;font-size:11px;line-height:11px;color:#111;font-weight:bold;transform:translateX(-50%);">30</div>
<svg class="r" style="left:760px;top:503px;" width="5" height="7" viewBox="0 0 5 7"><path d="M1 1 L4 3.5 L1 6 Z" fill="#444" stroke="#000" stroke-width="1.1"/></svg>
<svg class="r" style="left:650px;top:540px;" width="11" height="14" viewBox="0 0 11 14"><rect x="0.5" y="0.5" width="10" height="12.5" fill="#eaf4ff" stroke="#0d55c0"/><circle cx="5.5" cy="4.3" r="2.3" fill="#f02040" stroke="#000" stroke-width="1"/><circle cx="5.5" cy="8.9" r="2.3" fill="#20d020" stroke="#000" stroke-width="1"/></svg>
<div class="t" style="left:666.40px;top:539.04px;font-size:12px;line-height:12px;color:#444;letter-spacing:0.4px;text-decoration:underline;">Configure Alarms</div>
<div class="r" style="left:231px;top:581px;width:913px;height:237px;border:1px solid #d9e6ef;box-sizing:border-box;"></div>
<div class="r" style="left:232px;top:582px;width:911px;height:22px;background:linear-gradient(#fbfdfe 0%,#f4f8fa 40%,#e8eff4 100%);"></div>
<div class="r" style="left:232px;top:604px;width:911px;height:1px;background:#dbe7f0;"></div>
<div class="t" style="left:371.50px;top:587.54px;font-size:12px;line-height:12px;color:#444;font-weight:bold;letter-spacing:0.75px;transform:translateX(-50%);">CPU Utilization</div>
<div class="t" style="left:685.00px;top:587.54px;font-size:12px;line-height:12px;color:#444;font-weight:bold;letter-spacing:0.75px;transform:translateX(-50%);">Memory Utilization</div>
<div class="t" style="left:1003.00px;top:587.54px;font-size:12px;line-height:12px;color:#444;font-weight:bold;letter-spacing:0.75px;transform:translateX(-50%);">Disk Utilization</div>
<div class="r" style="left:242px;top:615px;width:283px;height:192px;border:1px solid #aac5e0;box-sizing:border-box;border-radius:6px;"></div>
<div class="r" style="left:545px;top:615px;width:284px;height:192px;border:1px solid #aac5e0;box-sizing:border-box;border-radius:6px;"></div>
<div class="r" style="left:849px;top:615px;width:284px;height:192px;border:1px solid #aac5e0;box-sizing:border-box;border-radius:6px;"></div>
<svg class="r" style="left:308px;top:624px;" width="150" height="150" viewBox="0 0 150 150"><defs><radialGradient id="gg383" cx="50%" cy="38%" r="60%"><stop offset="0" stop-color="#676767"/><stop offset="0.35" stop-color="#5a5a5a"/><stop offset="0.7" stop-color="#454545"/><stop offset="1" stop-color="#3a3a3a"/></radialGradient></defs><circle cx="75.0" cy="76.0" r="72" fill="#000" opacity="0.12"/><circle cx="75.0" cy="75.0" r="71" fill="#5f686e"/><circle cx="75.0" cy="75.0" r="67" fill="url(#gg383)"/><line x1="75.0" y1="75.0" x2="38.40" y2="132.20" stroke="#c4c4c4" stroke-width="2"/><circle cx="75.0" cy="75.0" r="3.2" fill="#bdbdbd"/></svg>
<div class="t" style="left:376.20px;top:641.17px;font-size:14px;line-height:14px;color:#d8d8d8;font-family:'Liberation Serif', serif;font-weight:bold;letter-spacing:0.8px;">50</div>
<div class="t" style="left:326.60px;top:678.57px;font-size:14px;line-height:14px;color:#d8d8d8;font-family:'Liberation Serif', serif;font-weight:bold;letter-spacing:0.8px;">25</div>
<div class="t" style="left:425.00px;top:678.57px;font-size:14px;line-height:14px;color:#d8d8d8;font-family:'Liberation Serif', serif;font-weight:bold;letter-spacing:0.8px;">75</div>
<div class="t" style="left:354.80px;top:735.38px;font-size:14px;line-height:14px;color:#d8d8d8;font-family:'Liberation Serif', serif;font-weight:bold;letter-spacing:0.8px;">0</div>
<div class="t" style="left:397.60px;top:735.38px;font-size:14px;line-height:14px;color:#d8d8d8;font-family:'Liberation Serif', serif;font-weight:bold;letter-spacing:0.8px;">100</div>
<svg class="r" style="left:606px;top:624px;" width="152" height="152" viewBox="0 0 152 152"><defs><radialGradient id="gg681" cx="50%" cy="38%" r="60%"><stop offset="0" stop-color="#676767"/><stop offset="0.35" stop-color="#5a5a5a"/><stop offset="0.7" stop-color="#454545"/><stop offset="1" stop-color="#3a3a3a"/></radialGradient></defs><circle cx="76.0" cy="77.0" r="73" fill="#000" opacity="0.12"/><circle cx="76.0" cy="76.0" r="72" fill="#5f686e"/><circle cx="76.0" cy="76.0" r="68" fill="url(#gg681)"/><path d="M43.76 134.16 A66.5 66.5 0 1 1 134.16 108.24" stroke="#22e022" stroke-width="2.6" fill="none"/><path d="M134.16 108.24 A66.5 66.5 0 0 1 123.84 122.19" stroke="#f0c020" stroke-width="2.6" fill="none"/><path d="M123.84 122.19 A66.5 66.5 0 0 1 108.24 134.16" stroke="#ee1010" stroke-width="2.6" fill="none"/><line x1="76.0" y1="76.0" x2="48.50" y2="14.40" stroke="#c4c4c4" stroke-width="2"/><circle cx="76.0" cy="76.0" r="3.2" fill="#bdbdbd"/></svg>
<div class="t" style="left:677.30px;top:642.37px;font-size:11.5px;line-height:11.5px;color:#e4e4e4;letter-spacing:0.2px;">50</div>
<div class="t" style="left:625.40px;top:690.47px;font-size:11.5px;line-height:11.5px;color:#e4e4e4;letter-spacing:0.2px;">25</div>
<div class="t" style="left:724.40px;top:690.47px;font-size:11.5px;line-height:11.5px;color:#e4e4e4;letter-spacing:0.2px;">75</div>
<div class="t" style="left:642.20px;top:739.37px;font-size:11.5px;line-height:11.5px;color:#e4e4e4;letter-spacing:0.2px;">0</div>
<div class="t" style="left:706.00px;top:739.37px;font-size:11.5px;line-height:11.5px;color:#e4e4e4;letter-spacing:0.2px;">100</div>
<svg class="r" style="left:916px;top:624px;" width="150" height="150" viewBox="0 0 150 150"><defs><radialGradient id="gg991" cx="50%" cy="38%" r="60%"><stop offset="0" stop-color="#676767"/><stop offset="0.35" stop-color="#5a5a5a"/><stop offset="0.7" stop-color="#454545"/><stop offset="1" stop-color="#3a3a3a"/></radialGradient></defs><circle cx="75.0" cy="76.0" r="72" fill="#000" opacity="0.12"/><circle cx="75.0" cy="75.0" r="71" fill="#5f686e"/><circle cx="75.0" cy="75.0" r="67" fill="url(#gg991)"/><line x1="75.0" y1="75.0" x2="38.40" y2="132.30" stroke="#c4c4c4" stroke-width="2"/><circle cx="75.0" cy="75.0" r="3.2" fill="#bdbdbd"/></svg>
<div class="t" style="left:984.30px;top:641.77px;font-size:14px;line-height:14px;color:#d8d8d8;font-family:'Liberation Serif', serif;font-weight:bold;letter-spacing:0.8px;">50</div>
<div class="t" style="left:934.40px;top:678.77px;font-size:14px;line-height:14px;color:#d8d8d8;font-family:'Liberation Serif', serif;font-weight:bold;letter-spacing:0.8px;">25</div>
<div class="t" style="left:1033.80px;top:678.77px;font-size:14px;line-height:14px;color:#d8d8d8;font-family:'Liberation Serif', serif;font-weight:bold;letter-spacing:0.8px;">75</div>
<div class="t" style="left:961.60px;top:735.77px;font-size:14px;line-height:14px;color:#d8d8d8;font-family:'Liberation Serif', serif;font-weight:bold;letter-spacing:0.8px;">0</div>
<div class="t" style="left:1005.20px;top:735.77px;font-size:14px;line-height:14px;color:#d8d8d8;font-family:'Liberation Serif', serif;font-weight:bold;letter-spacing:0.8px;">100</div>

<div class="t" style="left:316.00px;top:783.74px;font-size:12px;line-height:12px;color:#444;font-weight:bold;letter-spacing:0.731px;text-decoration:underline;">CPU Utilization - 1</div>
<div class="t" style="left:437.80px;top:783.74px;font-size:12px;line-height:12px;color:#444;font-weight:bold;">%</div>
<div class="t" style="left:606.00px;top:783.94px;font-size:12px;line-height:12px;color:#444;font-weight:bold;letter-spacing:0.974px;text-decoration:underline;">Memory Utilization-37</div>
<div class="t" style="left:754.90px;top:783.94px;font-size:12px;line-height:12px;color:#444;font-weight:bold;">%</div>
<div class="t" style="left:926.10px;top:784.94px;font-size:12px;line-height:12px;color:#444;font-weight:bold;letter-spacing:0.848px;text-decoration:underline;">Disk Utilization-1</div>
<div class="t" style="left:1041.80px;top:784.94px;font-size:12px;line-height:12px;color:#444;font-weight:bold;">%</div>
<div class="r" style="left:231px;top:839px;width:913px;height:391px;border:1px solid #d9e6ef;box-sizing:border-box;"></div>
<div class="r" style="left:232px;top:840px;width:911px;height:22px;background:linear-gradient(#fbfdfe 0%,#f4f8fa 40%,#e8eff4 100%);"></div>
<div class="r" style="left:232px;top:862px;width:911px;height:1px;background:#dbe7f0;"></div>
<div class="t" style="left:240.50px;top:845.84px;font-size:12px;line-height:12px;color:#444;font-weight:bold;letter-spacing:0.75px;">CPU and Memory Utilization - Last six hours</div>
<svg class="r" style="left:382px;top:892px;" width="546" height="166" viewBox="0 0 546 166"><rect x="0.5" y="0.5" width="545" height="162" fill="#fff" stroke="#cfcfcf"/><line x1="1" y1="143.4" x2="545" y2="143.4" stroke="#e2e2e2" stroke-dasharray="3,3"/><line x1="1" y1="124.3" x2="545" y2="124.3" stroke="#e2e2e2" stroke-dasharray="3,3"/><line x1="1" y1="105.3" x2="545" y2="105.3" stroke="#e2e2e2" stroke-dasharray="3,3"/><line x1="1" y1="86.2" x2="545" y2="86.2" stroke="#e2e2e2" stroke-dasharray="3,3"/><line x1="1" y1="67.2" x2="545" y2="67.2" stroke="#e2e2e2" stroke-dasharray="3,3"/><line x1="1" y1="48.1" x2="545" y2="48.1" stroke="#e2e2e2" stroke-dasharray="3,3"/><line x1="1" y1="29.1" x2="545" y2="29.1" stroke="#e2e2e2" stroke-dasharray="3,3"/><line x1="1" y1="10.0" x2="545" y2="10.0" stroke="#e2e2e2" stroke-dasharray="3,3"/><line x1="40.3" y1="1" x2="40.3" y2="162" stroke="#e2e2e2" stroke-dasharray="3,3"/><line x1="88.1" y1="1" x2="88.1" y2="162" stroke="#e2e2e2" stroke-dasharray="3,3"/><line x1="135.9" y1="1" x2="135.9" y2="162" stroke="#e2e2e2" stroke-dasharray="3,3"/><line x1="183.8" y1="1" x2="183.8" y2="162" stroke="#e2e2e2" stroke-dasharray="3,3"/><line x1="231.6" y1="1" x2="231.6" y2="162" stroke="#e2e2e2" stroke-dasharray="3,3"/><line x1="279.4" y1="1" x2="279.4" y2="162" stroke="#e2e2e2" stroke-dasharray="3,3"/><line x1="327.2" y1="1" x2="327.2" y2="162" stroke="#e2e2e2" stroke-dasharray="3,3"/><line x1="375.0" y1="1" x2="375.0" y2="162" stroke="#e2e2e2" stroke-dasharray="3,3"/><line x1="422.9" y1="1" x2="422.9" y2="162" stroke="#e2e2e2" stroke-dasharray="3,3"/><line x1="470.7" y1="1" x2="470.7" y2="162" stroke="#e2e2e2" stroke-dasharray="3,3"/><line x1="518.5" y1="1" x2="518.5" y2="162" stroke="#e2e2e2" stroke-dasharray="3,3"/><polyline points="11.0,154.8 17.0,154.8 23.0,154.8 29.0,154.8 35.0,154.8 41.0,154.8 47.0,154.8 53.0,154.8 59.0,154.8 65.0,154.8 71.0,154.8 77.0,154.8 83.0,154.8 89.0,154.8 95.0,154.8 101.0,154.8 107.0,154.8 113.0,154.8 119.0,154.8 125.0,154.8 131.0,154.8 137.0,154.8 143.0,154.8 149.0,154.8 155.0,154.8 161.0,154.8 167.0,154.8 173.0,154.8 179.0,154.8 185.0,154.8 191.0,154.8 197.0,154.8 203.0,154.8 209.0,154.8 215.0,154.8 221.0,154.8 227.0,154.8 233.0,154.8 239.0,154.8 245.0,154.8 251.0,154.8 257.0,154.8 263.0,154.8 269.0,154.8 275.0,154.8 281.0,154.8 287.0,154.8 293.0,154.8 299.0,154.8 305.0,154.8 311.0,154.8 317.0,154.8 323.0,154.8 329.0,154.8 335.0,154.8 341.0,154.8 347.0,154.8 353.0,154.8 358.5,154.8 359.0,154.8 361.0,152.9 363.5,154.8 365.0,154.8 371.0,154.8 377.0,154.8 383.0,154.8 389.0,154.8 395.0,154.8 401.0,154.8 407.0,154.8 413.0,154.8 419.0,154.8 425.0,154.8 431.0,154.8 437.0,154.8 443.0,154.8 449.0,154.8 455.0,154.8 461.0,154.8 467.0,154.8 473.0,154.8 479.0,154.8 485.0,154.8 491.0,154.8 497.0,154.8 503.0,154.8 509.0,154.8 515.0,154.8 521.0,154.8 527.0,154.8 533.0,154.8 536.0,154.8" fill="none" stroke="#22c022" stroke-width="2.2" stroke-linejoin="round"/><polyline points="11.0,21.4 17.0,21.4 23.0,21.4 29.0,21.4 35.0,21.4 41.0,21.4 47.0,21.4 53.0,21.4 59.0,21.4 65.0,21.4 71.0,21.4 77.0,21.4 83.0,21.4 89.0,21.4 95.0,21.4 101.0,21.4 107.0,21.4 113.0,21.4 119.0,21.4 125.0,21.4 131.0,21.4 137.0,21.4 143.0,21.4 149.0,21.4 155.0,21.4 161.0,21.4 167.0,21.4 173.0,21.4 179.0,21.4 185.0,21.4 191.0,21.4 197.0,21.4 203.0,21.4 209.0,21.4 215.0,21.4 221.0,21.4 227.0,21.4 233.0,21.4 239.0,21.4 245.0,21.4 251.0,21.4 257.0,21.4 263.0,21.4 269.0,21.4 275.0,21.4 281.0,21.4 287.0,21.4 293.0,21.4 299.0,21.4 305.0,21.4 311.0,21.4 317.0,21.4 323.0,21.4 329.0,21.4 335.0,21.4 341.0,21.4 347.0,21.4 353.0,21.4 359.0,21.4 365.0,21.4 371.0,21.4 377.0,21.4 383.0,21.4 389.0,21.4 395.0,21.4 401.0,21.4 407.0,21.4 413.0,21.4 419.0,21.4 425.0,21.4 431.0,21.4 437.0,21.4 443.0,21.4 449.0,21.4 455.0,21.4 461.0,21.4 467.0,21.4 473.0,21.4 479.0,21.4 485.0,21.4 491.0,21.4 497.0,21.4 503.0,21.4 509.0,21.4 515.0,21.4 521.0,21.4 527.0,21.4 533.0,21.4 536.0,21.4" fill="none" stroke="#2a2ab8" stroke-width="2.2" stroke-linejoin="round"/><polyline points="11.0,158.6 17.0,158.6 23.0,158.6 29.0,158.6 35.0,158.6 37.5,158.6 40.0,154.8 41.0,158.6 42.5,158.6 47.0,158.6 53.0,158.6 59.0,158.6 65.0,158.6 71.0,158.6 77.0,158.6 83.0,158.6 89.0,158.6 95.0,158.6 101.0,158.6 107.0,158.6 113.0,158.6 119.0,158.6 125.0,158.6 131.0,158.6 137.0,158.6 143.0,158.6 149.0,158.6 155.0,158.6 161.0,158.6 167.0,158.6 173.0,158.6 179.0,158.6 185.0,158.6 191.0,158.6 197.0,158.6 203.0,158.6 209.0,158.6 215.0,158.6 221.0,158.6 227.0,158.6 233.0,158.6 239.0,158.6 245.0,158.6 251.0,158.6 257.0,158.6 263.0,158.6 269.0,158.6 275.0,158.6 281.0,158.6 287.0,158.6 293.0,158.6 299.0,158.6 305.0,158.6 311.0,158.6 317.0,158.6 323.0,158.6 329.0,158.6 335.0,158.6 341.0,158.6 347.0,158.6 353.0,158.6 359.0,158.6 360.0,158.6 362.5,150.2 365.0,158.6 365.0,158.6 366.5,158.6 369.0,155.5 371.0,158.6 371.5,158.6 377.0,158.6 383.0,158.6 389.0,158.6 395.0,158.6 401.0,158.6 407.0,158.6 413.0,158.6 419.0,158.6 425.0,158.6 431.0,158.6 437.0,158.6 443.0,158.6 449.0,158.6 455.0,158.6 461.0,158.6 467.0,158.6 473.0,158.6 479.0,158.6 485.0,158.6 491.0,158.6 496.5,158.6 497.0,158.6 499.0,154.8 501.5,158.6 503.0,158.6 509.0,158.6 515.0,158.6 521.0,158.6 527.0,158.6 533.0,158.6 536.0,158.6" fill="none" stroke="#cc22cc" stroke-width="2" stroke-linejoin="round"/></svg>
<div class="r" style="left:379px;top:1054px;width:3px;height:1px;background:#888;"></div>
<div class="t" style="left:377.50px;top:1049.81px;font-size:10.5px;line-height:10.5px;color:#666;letter-spacing:0.6px;transform:translateX(-100%);">0</div>
<div class="r" style="left:379px;top:1035px;width:3px;height:1px;background:#888;"></div>
<div class="t" style="left:377.50px;top:1030.76px;font-size:10.5px;line-height:10.5px;color:#666;letter-spacing:0.6px;transform:translateX(-100%);">5</div>
<div class="r" style="left:379px;top:1016px;width:3px;height:1px;background:#888;"></div>
<div class="t" style="left:377.50px;top:1011.71px;font-size:10.5px;line-height:10.5px;color:#666;letter-spacing:0.6px;transform:translateX(-100%);">10</div>
<div class="r" style="left:379px;top:997px;width:3px;height:1px;background:#888;"></div>
<div class="t" style="left:377.50px;top:992.66px;font-size:10.5px;line-height:10.5px;color:#666;letter-spacing:0.6px;transform:translateX(-100%);">15</div>
<div class="r" style="left:379px;top:978px;width:3px;height:1px;background:#888;"></div>
<div class="t" style="left:377.50px;top:973.61px;font-size:10.5px;line-height:10.5px;color:#666;letter-spacing:0.6px;transform:translateX(-100%);">20</div>
<div class="r" style="left:379px;top:959px;width:3px;height:1px;background:#888;"></div>
<div class="t" style="left:377.50px;top:954.56px;font-size:10.5px;line-height:10.5px;color:#666;letter-spacing:0.6px;transform:translateX(-100%);">25</div>
<div class="r" style="left:379px;top:940px;width:3px;height:1px;background:#888;"></div>
<div class="t" style="left:377.50px;top:935.51px;font-size:10.5px;line-height:10.5px;color:#666;letter-spacing:0.6px;transform:translateX(-100%);">30</div>
<div class="r" style="left:379px;top:921px;width:3px;height:1px;background:#888;"></div>
<div class="t" style="left:377.50px;top:916.46px;font-size:10.5px;line-height:10.5px;color:#666;letter-spacing:0.6px;transform:translateX(-100%);">35</div>
<div class="r" style="left:379px;top:902px;width:3px;height:1px;background:#888;"></div>
<div class="t" style="left:377.50px;top:897.41px;font-size:10.5px;line-height:10.5px;color:#666;letter-spacing:0.6px;transform:translateX(-100%);">40</div>
<div class="r" style="left:422px;top:1055px;width:1px;height:3px;background:#888;"></div>
<div class="t" style="left:422.30px;top:1058.81px;font-size:10.5px;line-height:10.5px;color:#666;letter-spacing:0.55px;transform:translateX(-50%);">02:00</div>
<div class="r" style="left:470px;top:1055px;width:1px;height:3px;background:#888;"></div>
<div class="t" style="left:470.12px;top:1058.81px;font-size:10.5px;line-height:10.5px;color:#666;letter-spacing:0.55px;transform:translateX(-50%);">04:00</div>
<div class="r" style="left:518px;top:1055px;width:1px;height:3px;background:#888;"></div>
<div class="t" style="left:517.94px;top:1058.81px;font-size:10.5px;line-height:10.5px;color:#666;letter-spacing:0.55px;transform:translateX(-50%);">06:00</div>
<div class="r" style="left:566px;top:1055px;width:1px;height:3px;background:#888;"></div>
<div class="t" style="left:565.76px;top:1058.81px;font-size:10.5px;line-height:10.5px;color:#666;letter-spacing:0.55px;transform:translateX(-50%);">08:00</div>
<div class="r" style="left:614px;top:1055px;width:1px;height:3px;background:#888;"></div>
<div class="t" style="left:613.58px;top:1058.81px;font-size:10.5px;line-height:10.5px;color:#666;letter-spacing:0.55px;transform:translateX(-50%);">10:00</div>
<div class="r" style="left:661px;top:1055px;width:1px;height:3px;background:#888;"></div>
<div class="t" style="left:661.40px;top:1058.81px;font-size:10.5px;line-height:10.5px;color:#666;letter-spacing:0.55px;transform:translateX(-50%);">12:00</div>
<div class="r" style="left:709px;top:1055px;width:1px;height:3px;background:#888;"></div>
<div class="t" style="left:709.22px;top:1058.81px;font-size:10.5px;line-height:10.5px;color:#666;letter-spacing:0.55px;transform:translateX(-50%);">14:00</div>
<div class="r" style="left:757px;top:1055px;width:1px;height:3px;background:#888;"></div>
<div class="t" style="left:757.04px;top:1058.81px;font-size:10.5px;line-height:10.5px;color:#666;letter-spacing:0.55px;transform:translateX(-50%);">16:00</div>
<div class="r" style="left:805px;top:1055px;width:1px;height:3px;background:#888;"></div>
<div class="t" style="left:804.86px;top:1058.81px;font-size:10.5px;line-height:10.5px;color:#666;letter-spacing:0.55px;transform:translateX(-50%);">18:00</div>
<div class="r" style="left:853px;top:1055px;width:1px;height:3px;background:#888;"></div>
<div class="t" style="left:852.68px;top:1058.81px;font-size:10.5px;line-height:10.5px;color:#666;letter-spacing:0.55px;transform:translateX(-50%);">20:00</div>
<div class="r" style="left:900px;top:1055px;width:1px;height:3px;background:#888;"></div>
<div class="t" style="left:900.50px;top:1058.81px;font-size:10.5px;line-height:10.5px;color:#666;letter-spacing:0.55px;transform:translateX(-50%);">22:00</div>
<div class="t" style="left:353.5px;top:977px;font-size:11px;line-height:11px;color:#666;letter-spacing:0.6px;transform:translate(-50%,-50%) rotate(-90deg);">Value in %</div>
<div class="t" style="left:655.00px;top:1073.79px;font-size:11px;line-height:11px;color:#666;letter-spacing:1.2px;transform:translateX(-50%);">Time</div>
<div class="r" style="left:422px;top:1093px;width:428px;height:20px;box-sizing:border-box;border:1px solid #b0b0b0;background:#fff;"></div>
<div class="r" style="left:425px;top:1102px;width:14px;height:2px;background:#22c022;"></div>
<div class="t" style="left:444.90px;top:1097.89px;font-size:11px;line-height:11px;color:#666;letter-spacing:0.316px;">Swap Memory Utilization</div>
<div class="r" style="left:579px;top:1102px;width:15px;height:2px;background:#2a2ab8;"></div>
<div class="t" style="left:598.80px;top:1097.89px;font-size:11px;line-height:11px;color:#666;letter-spacing:0.366px;">Physical Memory Utilization</div>
<div class="r" style="left:749px;top:1102px;width:15px;height:2px;background:#cc22cc;"></div>
<div class="t" style="left:768.80px;top:1097.89px;font-size:11px;line-height:11px;color:#666;letter-spacing:0.238px;">CPU Utilization</div>
<div class="r" style="left:232px;top:1129px;width:911px;height:20px;background:#edf2fc;"></div>
<div class="r" style="left:232px;top:1128px;width:911px;height:1px;background:#dbe5ef;"></div>
<div class="r" style="left:232px;top:1149px;width:911px;height:1px;background:#dde7f1;"></div>
<div class="r" style="left:686px;top:1129px;width:1px;height:100px;background:#dde7ef;"></div>
<div class="t" style="left:235.60px;top:1134.14px;font-size:12px;line-height:12px;color:#444;font-weight:bold;letter-spacing:0.75px;">Memory Usage</div>
<div class="t" style="left:462.00px;top:1134.14px;font-size:12px;line-height:12px;color:#444;font-weight:bold;letter-spacing:0.75px;">%</div>
<div class="t" style="left:543.70px;top:1134.14px;font-size:12px;line-height:12px;color:#444;font-weight:bold;letter-spacing:0.75px;">MB</div>
<div class="t" style="left:595.80px;top:1134.14px;font-size:12px;line-height:12px;color:#444;font-weight:bold;letter-spacing:0.675px;">Threshold</div>
<div class="t" style="left:690.30px;top:1134.14px;font-size:12px;line-height:12px;color:#444;font-weight:bold;letter-spacing:0.75px;">CPU Usage</div>
<div class="t" style="left:865.80px;top:1134.14px;font-size:12px;line-height:12px;color:#444;font-weight:bold;letter-spacing:0.75px;">%</div>
<div class="t" style="left:1043.90px;top:1134.14px;font-size:12px;line-height:12px;color:#444;font-weight:bold;letter-spacing:0.675px;">Threshold</div>
<div class="r" style="left:232px;top:1176px;width:454px;height:1px;background:#e6e9ec;"></div>
<div class="r" style="left:232px;top:1203px;width:454px;height:1px;background:#e6e9ec;"></div>
<div class="r" style="left:687px;top:1176px;width:456px;height:1px;background:#e6e9ec;"></div>
<div class="t" style="left:235.60px;top:1157.94px;font-size:12px;line-height:12px;color:#444;letter-spacing:0.4px;">Swap Memory Utilization</div>
<div class="t" style="left:454.00px;top:1157.94px;font-size:12px;line-height:12px;color:#444;letter-spacing:0.4px;text-decoration:underline;">2</div>
<div class="r" style="left:494px;top:1156px;width:24px;height:15px;box-sizing:border-box;background:linear-gradient(#fbfbfb,#e2e2e2);border-top:1px solid #f4f4f4;border-left:1px solid #eee;border-right:1px solid #888;border-bottom:1px solid #666;"></div>
<div class="t" style="left:504.00px;top:1159.19px;font-size:11px;line-height:11px;color:#111;font-weight:bold;transform:translateX(-50%);">7</div>
<svg class="r" style="left:511px;top:1157px;" width="5" height="7" viewBox="0 0 5 7"><path d="M1 1 L4 3.5 L1 6 Z" fill="#444" stroke="#000" stroke-width="1.1"/></svg>
<div class="t" style="left:540.80px;top:1157.94px;font-size:12px;line-height:12px;color:#444;letter-spacing:0.4px;">13</div>
<svg class="r" style="left:634px;top:1156px;" width="12" height="12" viewBox="0 0 12 12"><rect x="0.5" y="0.5" width="11" height="11" rx="1.5" fill="#fff" stroke="#666"/><path d="M4.2 9.6 Q3.2 5.6 7.6 4.4" stroke="#505050" stroke-width="1.8" fill="none"/><path d="M6.2 2.4 L9.8 3.2 L7.6 6.4 Z" fill="#505050" stroke="#505050" stroke-width="0.8"/></svg>
<div class="t" style="left:235.60px;top:1184.74px;font-size:12px;line-height:12px;color:#444;letter-spacing:0.4px;">Physical Memory Utilization</div>
<div class="t" style="left:454.00px;top:1184.74px;font-size:12px;line-height:12px;color:#444;letter-spacing:0.4px;text-decoration:underline;">37</div>
<div class="r" style="left:494px;top:1183px;width:24px;height:15px;box-sizing:border-box;background:linear-gradient(#fbfbfb,#e2e2e2);border-top:1px solid #f4f4f4;border-left:1px solid #eee;border-right:1px solid #888;border-bottom:1px solid #666;"></div>
<div class="t" style="left:504.00px;top:1186.19px;font-size:11px;line-height:11px;color:#111;font-weight:bold;transform:translateX(-50%);">7</div>
<svg class="r" style="left:511px;top:1184px;" width="5" height="7" viewBox="0 0 5 7"><path d="M1 1 L4 3.5 L1 6 Z" fill="#444" stroke="#000" stroke-width="1.1"/></svg>
<div class="t" style="left:540.80px;top:1184.74px;font-size:12px;line-height:12px;color:#444;letter-spacing:0.4px;">2,879</div>
<svg class="r" style="left:634px;top:1183px;" width="12" height="12" viewBox="0 0 12 12"><rect x="0.5" y="0.5" width="11" height="11" rx="1.5" fill="#fff" stroke="#666"/><path d="M4.2 9.6 Q3.2 5.6 7.6 4.4" stroke="#505050" stroke-width="1.8" fill="none"/><path d="M6.2 2.4 L9.8 3.2 L7.6 6.4 Z" fill="#505050" stroke="#505050" stroke-width="0.8"/></svg>
<svg class="r" style="left:566px;top:1212px;" width="11" height="14" viewBox="0 0 11 14"><rect x="0.5" y="0.5" width="10" height="12.5" fill="#eaf4ff" stroke="#0d55c0"/><circle cx="5.5" cy="4.3" r="2.3" fill="#f02040" stroke="#000" stroke-width="1"/><circle cx="5.5" cy="8.9" r="2.3" fill="#20d020" stroke="#000" stroke-width="1"/></svg>
<div class="t" style="left:580.40px;top:1209.34px;font-size:12px;line-height:12px;color:#444;letter-spacing:0.4px;text-decoration:underline;">Configure Alarms</div>
<div class="t" style="left:690.30px;top:1157.94px;font-size:12px;line-height:12px;color:#444;letter-spacing:0.4px;">CPU Utilization</div>
<div class="t" style="left:865.80px;top:1157.94px;font-size:12px;line-height:12px;color:#444;letter-spacing:0.4px;text-decoration:underline;">1</div>
<div class="r" style="left:938px;top:1156px;width:24px;height:15px;box-sizing:border-box;background:linear-gradient(#fbfbfb,#e2e2e2);border-top:1px solid #f4f4f4;border-left:1px solid #eee;border-right:1px solid #888;border-bottom:1px solid #666;"></div>
<div class="t" style="left:948.00px;top:1159.19px;font-size:11px;line-height:11px;color:#111;font-weight:bold;transform:translateX(-50%);">7</div>
<svg class="r" style="left:955px;top:1157px;" width="5" height="7" viewBox="0 0 5 7"><path d="M1 1 L4 3.5 L1 6 Z" fill="#444" stroke="#000" stroke-width="1.1"/></svg>
<svg class="r" style="left:1069px;top:1156px;" width="12" height="12" viewBox="0 0 12 12"><rect x="0.5" y="0.5" width="11" height="11" rx="1.5" fill="#fff" stroke="#666"/><path d="M4.2 9.6 Q3.2 5.6 7.6 4.4" stroke="#505050" stroke-width="1.8" fill="none"/><path d="M6.2 2.4 L9.8 3.2 L7.6 6.4 Z" fill="#505050" stroke="#505050" stroke-width="0.8"/></svg>
<svg class="r" style="left:1021px;top:1184px;" width="11" height="14" viewBox="0 0 11 14"><rect x="0.5" y="0.5" width="10" height="12.5" fill="#eaf4ff" stroke="#0d55c0"/><circle cx="5.5" cy="4.3" r="2.3" fill="#f02040" stroke="#000" stroke-width="1"/><circle cx="5.5" cy="8.9" r="2.3" fill="#20d020" stroke="#000" stroke-width="1"/></svg>
<div class="t" style="left:1035.40px;top:1182.94px;font-size:12px;line-height:12px;color:#444;letter-spacing:0.4px;text-decoration:underline;">Configure Alarms</div>
<div class="r" style="left:231px;top:1251px;width:913px;height:564px;border:1px solid #d9e6ef;box-sizing:border-box;"></div>
<div class="r" style="left:232px;top:1252px;width:911px;height:22px;background:linear-gradient(#fbfdfe 0%,#f4f8fa 40%,#e8eff4 100%);"></div>
<div class="r" style="left:232px;top:1274px;width:911px;height:1px;background:#dbe7f0;"></div>
<div class="t" style="left:240.30px;top:1256.94px;font-size:12px;line-height:12px;color:#444;font-weight:bold;letter-spacing:0.75px;">Break up of CPU Utilization</div>
<svg class="r" style="left:415px;top:1294px;" width="589" height="204" viewBox="0 0 589 204"><rect x="0.5" y="0.5" width="588" height="200" fill="#fff" stroke="#cfcfcf"/><line x1="1" y1="182.6" x2="588" y2="182.6" stroke="#e2e2e2" stroke-dasharray="3,3"/><line x1="1" y1="164.9" x2="588" y2="164.9" stroke="#e2e2e2" stroke-dasharray="3,3"/><line x1="1" y1="147.1" x2="588" y2="147.1" stroke="#e2e2e2" stroke-dasharray="3,3"/><line x1="1" y1="129.3" x2="588" y2="129.3" stroke="#e2e2e2" stroke-dasharray="3,3"/><line x1="1" y1="111.6" x2="588" y2="111.6" stroke="#e2e2e2" stroke-dasharray="3,3"/><line x1="1" y1="93.8" x2="588" y2="93.8" stroke="#e2e2e2" stroke-dasharray="3,3"/><line x1="1" y1="76.0" x2="588" y2="76.0" stroke="#e2e2e2" stroke-dasharray="3,3"/><line x1="1" y1="58.2" x2="588" y2="58.2" stroke="#e2e2e2" stroke-dasharray="3,3"/><line x1="1" y1="40.5" x2="588" y2="40.5" stroke="#e2e2e2" stroke-dasharray="3,3"/><line x1="1" y1="22.7" x2="588" y2="22.7" stroke="#e2e2e2" stroke-dasharray="3,3"/><line x1="1" y1="4.9" x2="588" y2="4.9" stroke="#e2e2e2" stroke-dasharray="3,3"/><line x1="43.3" y1="1" x2="43.3" y2="200" stroke="#e2e2e2" stroke-dasharray="3,3"/><line x1="94.9" y1="1" x2="94.9" y2="200" stroke="#e2e2e2" stroke-dasharray="3,3"/><line x1="146.5" y1="1" x2="146.5" y2="200" stroke="#e2e2e2" stroke-dasharray="3,3"/><line x1="198.1" y1="1" x2="198.1" y2="200" stroke="#e2e2e2" stroke-dasharray="3,3"/><line x1="249.7" y1="1" x2="249.7" y2="200" stroke="#e2e2e2" stroke-dasharray="3,3"/><line x1="301.3" y1="1" x2="301.3" y2="200" stroke="#e2e2e2" stroke-dasharray="3,3"/><line x1="352.9" y1="1" x2="352.9" y2="200" stroke="#e2e2e2" stroke-dasharray="3,3"/><line x1="404.5" y1="1" x2="404.5" y2="200" stroke="#e2e2e2" stroke-dasharray="3,3"/><line x1="456.1" y1="1" x2="456.1" y2="200" stroke="#e2e2e2" stroke-dasharray="3,3"/><line x1="507.7" y1="1" x2="507.7" y2="200" stroke="#e2e2e2" stroke-dasharray="3,3"/><line x1="559.3" y1="1" x2="559.3" y2="200" stroke="#e2e2e2" stroke-dasharray="3,3"/><polyline points="11.0,200.4 17.0,200.4 23.0,200.4 29.0,200.4 35.0,200.4 41.0,200.4 47.0,200.4 53.0,200.4 59.0,200.4 65.0,200.4 71.0,200.4 77.0,200.4 83.0,200.4 89.0,200.4 95.0,200.4 101.0,200.4 107.0,200.4 113.0,200.4 119.0,200.4 125.0,200.4 131.0,200.4 137.0,200.4 143.0,200.4 149.0,200.4 155.0,200.4 161.0,200.4 167.0,200.4 173.0,200.4 179.0,200.4 185.0,200.4 191.0,200.4 197.0,200.4 203.0,200.4 209.0,200.4 215.0,200.4 221.0,200.4 227.0,200.4 233.0,200.4 239.0,200.4 245.0,200.4 251.0,200.4 257.0,200.4 263.0,200.4 269.0,200.4 275.0,200.4 281.0,200.4 287.0,200.4 293.0,200.4 299.0,200.4 305.0,200.4 311.0,200.4 317.0,200.4 323.0,200.4 329.0,200.4 335.0,200.4 341.0,200.4 347.0,200.4 353.0,200.4 359.0,200.4 365.0,200.4 371.0,200.4 377.0,200.4 383.0,200.4 388.0,200.4 389.0,200.4 390.5,196.5 393.0,200.4 395.0,200.4 401.0,200.4 407.0,200.4 413.0,200.4 419.0,200.4 425.0,200.4 431.0,200.4 437.0,200.4 443.0,200.4 449.0,200.4 455.0,200.4 461.0,200.4 467.0,200.4 473.0,200.4 479.0,200.4 485.0,200.4 491.0,200.4 497.0,200.4 503.0,200.4 509.0,200.4 515.0,200.4 521.0,200.4 527.0,200.4 533.0,200.4 539.0,200.4 545.0,200.4 551.0,200.4 557.0,200.4 563.0,200.4 569.0,200.4 570.4,200.4 572.9,198.6 575.0,200.4 575.4,200.4 578.0,200.4" fill="none" stroke="#cc22cc" stroke-width="2" stroke-linejoin="round"/><polyline points="11.0,200.4 17.0,200.4 23.0,200.4 29.0,200.4 35.0,200.4 36.9,200.4 39.4,198.3 41.0,200.4 41.9,200.4 47.0,200.4 53.0,200.4 59.0,200.4 65.0,200.4 71.0,200.4 77.0,200.4 83.0,200.4 89.0,200.4 95.0,200.4 101.0,200.4 107.0,200.4 113.0,200.4 119.0,200.4 125.0,200.4 131.0,200.4 137.0,200.4 143.0,200.4 149.0,200.4 155.0,200.4 161.0,200.4 167.0,200.4 173.0,200.4 179.0,200.4 185.0,200.4 191.0,200.4 197.0,200.4 203.0,200.4 209.0,200.4 215.0,200.4 221.0,200.4 227.0,200.4 233.0,200.4 239.0,200.4 245.0,200.4 251.0,200.4 257.0,200.4 263.0,200.4 269.0,200.4 275.0,200.4 281.0,200.4 287.0,200.4 293.0,200.4 299.0,200.4 305.0,200.4 311.0,200.4 317.0,200.4 323.0,200.4 329.0,200.4 335.0,200.4 341.0,200.4 347.0,200.4 353.0,200.4 359.0,200.4 365.0,200.4 371.0,200.4 377.0,200.4 383.0,200.4 387.5,200.4 389.0,200.4 390.0,197.7 392.5,200.4 395.0,200.4 401.0,200.4 407.0,200.4 413.0,200.4 419.0,200.4 425.0,200.4 431.0,200.4 437.0,200.4 443.0,200.4 449.0,200.4 455.0,200.4 461.0,200.4 467.0,200.4 473.0,200.4 479.0,200.4 485.0,200.4 491.0,200.4 496.9,200.4 497.0,200.4 499.4,198.6 501.9,200.4 503.0,200.4 509.0,200.4 515.0,200.4 521.0,200.4 527.0,200.4 533.0,200.4 539.0,200.4 539.5,200.4 542.0,198.6 544.5,200.4 545.0,200.4 551.0,200.4 557.0,200.4 563.0,200.4 569.0,200.4 575.0,200.4 578.0,200.4" fill="none" stroke="#2a2ab8" stroke-width="2" stroke-linejoin="round"/><polyline points="11.0,200.4 17.0,200.4 23.0,200.4 29.0,200.4 35.0,200.4 41.0,200.4 47.0,200.4 53.0,200.4 59.0,200.4 65.0,200.4 71.0,200.4 77.0,200.4 83.0,200.4 89.0,200.4 95.0,200.4 101.0,200.4 107.0,200.4 113.0,200.4 119.0,200.4 125.0,200.4 131.0,200.4 137.0,200.4 143.0,200.4 149.0,200.4 155.0,200.4 156.0,200.4 158.5,198.1 161.0,200.4 161.0,200.4 167.0,200.4 173.0,200.4 179.0,200.4 185.0,200.4 191.0,200.4 197.0,200.4 203.0,200.4 209.0,200.4 215.0,200.4 221.0,200.4 227.0,200.4 233.0,200.4 239.0,200.4 245.0,200.4 251.0,200.4 257.0,200.4 263.0,200.4 269.0,200.4 275.0,200.4 281.0,200.4 287.0,200.4 293.0,200.4 299.0,200.4 305.0,200.4 311.0,200.4 317.0,200.4 323.0,200.4 329.0,200.4 335.0,200.4 341.0,200.4 347.0,200.4 353.0,200.4 359.0,200.4 365.0,200.4 371.0,200.4 377.0,200.4 383.0,200.4 389.0,200.4 393.2,200.4 395.0,200.4 395.7,198.6 398.2,200.4 401.0,200.4 407.0,200.4 413.0,200.4 419.0,200.4 425.0,200.4 431.0,200.4 437.0,200.4 443.0,200.4 449.0,200.4 455.0,200.4 461.0,200.4 467.0,200.4 473.0,200.4 479.0,200.4 485.0,200.4 491.0,200.4 497.0,200.4 503.0,200.4 509.0,200.4 515.0,200.4 521.0,200.4 527.0,200.4 533.0,200.4 539.0,200.4 545.0,200.4 551.0,200.4 557.0,200.4 563.0,200.4 569.0,200.4 575.0,200.4 578.0,200.4" fill="none" stroke="#22c022" stroke-width="2" stroke-linejoin="round"/><polyline points="11.0,24.5 16.0,24.5 21.0,24.5 26.0,24.5 31.0,24.5 36.0,24.5 36.9,24.5 39.4,27.1 41.0,24.5 41.9,24.5 46.0,24.5 51.0,24.5 56.0,24.5 61.0,24.5 66.0,24.5 71.0,24.5 76.0,24.5 81.0,24.5 86.0,24.5 91.0,24.5 96.0,24.5 101.0,24.5 106.0,24.5 111.0,24.5 116.0,24.5 121.0,24.5 126.0,24.5 131.0,24.5 136.0,24.5 141.0,24.5 146.0,24.5 151.0,24.5 156.0,24.5 161.0,24.5 166.0,24.5 171.0,24.5 176.0,24.5 181.0,24.5 186.0,24.5 191.0,24.5 196.0,24.5 201.0,24.5 206.0,24.5 211.0,24.5 216.0,24.5 221.0,24.5 226.0,24.5 231.0,24.5 236.0,24.5 241.0,24.5 246.0,24.5 251.0,24.5 256.0,24.5 261.0,24.5 266.0,24.5 271.0,24.5 276.0,24.5 281.0,24.5 286.0,24.5 291.0,24.5 296.0,24.5 301.0,24.5 306.0,24.5 311.0,24.5 316.0,24.5 321.0,24.5 326.0,24.5 331.0,24.5 336.0,24.5 341.0,24.5 346.0,24.5 351.0,24.5 356.0,24.5 361.0,24.5 366.0,24.5 371.0,24.5 376.0,24.5 381.0,24.5 386.0,24.5 387.7,24.5 390.2,28.9 391.0,24.5 392.5,24.5 392.7,24.5 395.0,26.3 396.0,24.5 397.5,24.5 401.0,24.5 406.0,24.5 411.0,24.5 416.0,24.5 421.0,24.5 426.0,24.5 431.0,24.5 436.0,24.5 441.0,24.5 446.0,24.5 451.0,24.5 456.0,24.5 461.0,24.5 466.0,24.5 471.0,24.5 476.0,24.5 481.0,24.5 486.0,24.5 491.0,24.5 496.0,24.5 501.0,24.5 506.0,24.5 511.0,24.5 516.0,24.5 521.0,24.5 526.0,24.5 531.0,24.5 536.0,24.5 539.5,24.5 541.0,24.5 542.0,27.1 544.5,24.5 546.0,24.5 551.0,24.5 556.0,24.5 561.0,24.5 566.0,24.5 571.0,24.5 576.0,24.5 578.0,24.5" fill="none" stroke="#22b8c8" stroke-width="2.2" stroke-linejoin="round"/></svg>
<div class="r" style="left:412px;top:1494px;width:3px;height:1px;background:#888;"></div>
<div class="t" style="left:408.50px;top:1489.81px;font-size:10.5px;line-height:10.5px;color:#666;letter-spacing:0.6px;transform:translateX(-100%);">0</div>
<div class="r" style="left:412px;top:1477px;width:3px;height:1px;background:#888;"></div>
<div class="t" style="left:408.50px;top:1472.04px;font-size:10.5px;line-height:10.5px;color:#666;letter-spacing:0.6px;transform:translateX(-100%);">10</div>
<div class="r" style="left:412px;top:1459px;width:3px;height:1px;background:#888;"></div>
<div class="t" style="left:408.50px;top:1454.27px;font-size:10.5px;line-height:10.5px;color:#666;letter-spacing:0.6px;transform:translateX(-100%);">20</div>
<div class="r" style="left:412px;top:1441px;width:3px;height:1px;background:#888;"></div>
<div class="t" style="left:408.50px;top:1436.50px;font-size:10.5px;line-height:10.5px;color:#666;letter-spacing:0.6px;transform:translateX(-100%);">30</div>
<div class="r" style="left:412px;top:1423px;width:3px;height:1px;background:#888;"></div>
<div class="t" style="left:408.50px;top:1418.73px;font-size:10.5px;line-height:10.5px;color:#666;letter-spacing:0.6px;transform:translateX(-100%);">40</div>
<div class="r" style="left:412px;top:1406px;width:3px;height:1px;background:#888;"></div>
<div class="t" style="left:408.50px;top:1400.96px;font-size:10.5px;line-height:10.5px;color:#666;letter-spacing:0.6px;transform:translateX(-100%);">50</div>
<div class="r" style="left:412px;top:1388px;width:3px;height:1px;background:#888;"></div>
<div class="t" style="left:408.50px;top:1383.19px;font-size:10.5px;line-height:10.5px;color:#666;letter-spacing:0.6px;transform:translateX(-100%);">60</div>
<div class="r" style="left:412px;top:1370px;width:3px;height:1px;background:#888;"></div>
<div class="t" style="left:408.50px;top:1365.42px;font-size:10.5px;line-height:10.5px;color:#666;letter-spacing:0.6px;transform:translateX(-100%);">70</div>
<div class="r" style="left:412px;top:1352px;width:3px;height:1px;background:#888;"></div>
<div class="t" style="left:408.50px;top:1347.65px;font-size:10.5px;line-height:10.5px;color:#666;letter-spacing:0.6px;transform:translateX(-100%);">80</div>
<div class="r" style="left:412px;top:1334px;width:3px;height:1px;background:#888;"></div>
<div class="t" style="left:408.50px;top:1329.88px;font-size:10.5px;line-height:10.5px;color:#666;letter-spacing:0.6px;transform:translateX(-100%);">90</div>
<div class="r" style="left:412px;top:1317px;width:3px;height:1px;background:#888;"></div>
<div class="t" style="left:408.50px;top:1312.11px;font-size:10.5px;line-height:10.5px;color:#666;letter-spacing:0.6px;transform:translateX(-100%);">100</div>
<div class="r" style="left:412px;top:1299px;width:3px;height:1px;background:#888;"></div>
<div class="t" style="left:408.50px;top:1294.34px;font-size:10.5px;line-height:10.5px;color:#666;letter-spacing:0.6px;transform:translateX(-100%);">110</div>
<div class="r" style="left:458px;top:1495px;width:1px;height:3px;background:#888;"></div>
<div class="t" style="left:458.30px;top:1498.91px;font-size:10.5px;line-height:10.5px;color:#666;letter-spacing:0.55px;transform:translateX(-50%);">02:00</div>
<div class="r" style="left:510px;top:1495px;width:1px;height:3px;background:#888;"></div>
<div class="t" style="left:509.90px;top:1498.91px;font-size:10.5px;line-height:10.5px;color:#666;letter-spacing:0.55px;transform:translateX(-50%);">04:00</div>
<div class="r" style="left:562px;top:1495px;width:1px;height:3px;background:#888;"></div>
<div class="t" style="left:561.50px;top:1498.91px;font-size:10.5px;line-height:10.5px;color:#666;letter-spacing:0.55px;transform:translateX(-50%);">06:00</div>
<div class="r" style="left:613px;top:1495px;width:1px;height:3px;background:#888;"></div>
<div class="t" style="left:613.10px;top:1498.91px;font-size:10.5px;line-height:10.5px;color:#666;letter-spacing:0.55px;transform:translateX(-50%);">08:00</div>
<div class="r" style="left:665px;top:1495px;width:1px;height:3px;background:#888;"></div>
<div class="t" style="left:664.70px;top:1498.91px;font-size:10.5px;line-height:10.5px;color:#666;letter-spacing:0.55px;transform:translateX(-50%);">10:00</div>
<div class="r" style="left:716px;top:1495px;width:1px;height:3px;background:#888;"></div>
<div class="t" style="left:716.30px;top:1498.91px;font-size:10.5px;line-height:10.5px;color:#666;letter-spacing:0.55px;transform:translateX(-50%);">12:00</div>
<div class="r" style="left:768px;top:1495px;width:1px;height:3px;background:#888;"></div>
<div class="t" style="left:767.90px;top:1498.91px;font-size:10.5px;line-height:10.5px;color:#666;letter-spacing:0.55px;transform:translateX(-50%);">14:00</div>
<div class="r" style="left:820px;top:1495px;width:1px;height:3px;background:#888;"></div>
<div class="t" style="left:819.50px;top:1498.91px;font-size:10.5px;line-height:10.5px;color:#666;letter-spacing:0.55px;transform:translateX(-50%);">16:00</div>
<div class="r" style="left:871px;top:1495px;width:1px;height:3px;background:#888;"></div>
<div class="t" style="left:871.10px;top:1498.91px;font-size:10.5px;line-height:10.5px;color:#666;letter-spacing:0.55px;transform:translateX(-50%);">18:00</div>
<div class="r" style="left:923px;top:1495px;width:1px;height:3px;background:#888;"></div>
<div class="t" style="left:922.70px;top:1498.91px;font-size:10.5px;line-height:10.5px;color:#666;letter-spacing:0.55px;transform:translateX(-50%);">20:00</div>
<div class="r" style="left:974px;top:1495px;width:1px;height:3px;background:#888;"></div>
<div class="t" style="left:974.30px;top:1498.91px;font-size:10.5px;line-height:10.5px;color:#666;letter-spacing:0.55px;transform:translateX(-50%);">22:00</div>
<div class="t" style="left:381px;top:1393px;font-size:11px;line-height:11px;color:#666;letter-spacing:0.6px;transform:translate(-50%,-50%) rotate(-90deg);">( % )</div>
<div class="t" style="left:0.00px;top:-8.81px;font-size:11px;line-height:11px;color:#666;letter-spacing:1.2px;transform:translateX(-50%);"></div>
<div class="r" style="left:488px;top:1516px;width:399px;height:19px;box-sizing:border-box;border:1px solid #b0b0b0;background:#fff;"></div>
<div class="r" style="left:491px;top:1525px;width:14px;height:2px;background:#22c022;"></div>
<div class="t" style="left:509.50px;top:1520.39px;font-size:11px;line-height:11px;color:#666;letter-spacing:0.07px;">User Time(%)</div>
<div class="r" style="left:582px;top:1525px;width:14px;height:2px;background:#2a2ab8;"></div>
<div class="t" style="left:600.50px;top:1520.39px;font-size:11px;line-height:11px;color:#666;letter-spacing:-0.052px;">System Time(%)</div>
<div class="r" style="left:687px;top:1525px;width:14px;height:2px;background:#cc22cc;"></div>
<div class="t" style="left:705.00px;top:1520.39px;font-size:11px;line-height:11px;color:#666;letter-spacing:0.512px;">I/O Wait Time(%)</div>
<div class="r" style="left:800px;top:1525px;width:14px;height:2px;background:#22b8c8;"></div>
<div class="t" style="left:818.50px;top:1520.39px;font-size:11px;line-height:11px;color:#666;letter-spacing:0.206px;">Idle Time(%)</div>
<div class="r" style="left:344px;top:1571px;width:686px;height:233px;border:1px solid #dde7f0;box-sizing:border-box;"></div>
<div class="r" style="left:345px;top:1572px;width:684px;height:19px;background:#edf2fc;"></div>
<div class="r" style="left:345px;top:1591px;width:684px;height:1px;background:#dde6f0;"></div>
<div class="t" style="left:348.40px;top:1575.84px;font-size:12px;line-height:12px;color:#444;font-weight:bold;letter-spacing:0.75px;">Parameter Name</div>
<div class="t" style="left:648.20px;top:1575.84px;font-size:12px;line-height:12px;color:#444;font-weight:bold;letter-spacing:0.75px;">Current Value</div>
<div class="t" style="left:892.00px;top:1575.84px;font-size:12px;line-height:12px;color:#444;font-weight:bold;letter-spacing:0.75px;">Status</div>
<div class="t" style="left:348.40px;top:1599.34px;font-size:12px;line-height:12px;color:#444;letter-spacing:0.4px;">Run Queue</div>
<div class="t" style="left:648.20px;top:1599.34px;font-size:12px;line-height:12px;color:#444;letter-spacing:0.4px;text-decoration:underline;">1</div>
<svg class="r" style="left:892px;top:1598px;" width="12" height="12" viewBox="0 0 12 12"><rect x="0.5" y="0.5" width="11" height="11" rx="1.5" fill="#fff" stroke="#666"/><path d="M4.2 9.6 Q3.2 5.6 7.6 4.4" stroke="#505050" stroke-width="1.8" fill="none"/><path d="M6.2 2.4 L9.8 3.2 L7.6 6.4 Z" fill="#505050" stroke="#505050" stroke-width="0.8"/></svg>
<div class="r" style="left:970px;top:1597px;width:24px;height:15px;box-sizing:border-box;background:linear-gradient(#fbfbfb,#e2e2e2);border-top:1px solid #f4f4f4;border-left:1px solid #eee;border-right:1px solid #888;border-bottom:1px solid #666;"></div>
<div class="t" style="left:980.00px;top:1600.19px;font-size:11px;line-height:11px;color:#111;font-weight:bold;transform:translateX(-50%);">7</div>
<svg class="r" style="left:987px;top:1598px;" width="5" height="7" viewBox="0 0 5 7"><path d="M1 1 L4 3.5 L1 6 Z" fill="#444" stroke="#000" stroke-width="1.1"/></svg>
<div class="r" style="left:345px;top:1618px;width:684px;height:1px;background:#e6e9ec;"></div>
<div class="t" style="left:348.40px;top:1626.34px;font-size:12px;line-height:12px;color:#444;letter-spacing:0.4px;">Blocked Process</div>
<div class="t" style="left:648.20px;top:1626.34px;font-size:12px;line-height:12px;color:#444;letter-spacing:0.4px;text-decoration:underline;">0</div>
<svg class="r" style="left:892px;top:1625px;" width="12" height="12" viewBox="0 0 12 12"><rect x="0.5" y="0.5" width="11" height="11" rx="1.5" fill="#fff" stroke="#666"/><path d="M4.2 9.6 Q3.2 5.6 7.6 4.4" stroke="#505050" stroke-width="1.8" fill="none"/><path d="M6.2 2.4 L9.8 3.2 L7.6 6.4 Z" fill="#505050" stroke="#505050" stroke-width="0.8"/></svg>
<div class="r" style="left:970px;top:1624px;width:24px;height:15px;box-sizing:border-box;background:linear-gradient(#fbfbfb,#e2e2e2);border-top:1px solid #f4f4f4;border-left:1px solid #eee;border-right:1px solid #888;border-bottom:1px solid #666;"></div>
<div class="t" style="left:980.00px;top:1627.19px;font-size:11px;line-height:11px;color:#111;font-weight:bold;transform:translateX(-50%);">7</div>
<svg class="r" style="left:987px;top:1625px;" width="5" height="7" viewBox="0 0 5 7"><path d="M1 1 L4 3.5 L1 6 Z" fill="#444" stroke="#000" stroke-width="1.1"/></svg>
<div class="r" style="left:345px;top:1645px;width:684px;height:1px;background:#e6e9ec;"></div>
<div class="t" style="left:348.40px;top:1653.34px;font-size:12px;line-height:12px;color:#444;letter-spacing:0.4px;">User Time(%)</div>
<div class="t" style="left:648.20px;top:1653.34px;font-size:12px;line-height:12px;color:#444;letter-spacing:0.4px;text-decoration:underline;">0</div>
<svg class="r" style="left:892px;top:1652px;" width="12" height="12" viewBox="0 0 12 12"><rect x="0.5" y="0.5" width="11" height="11" rx="1.5" fill="#fff" stroke="#666"/><path d="M4.2 9.6 Q3.2 5.6 7.6 4.4" stroke="#505050" stroke-width="1.8" fill="none"/><path d="M6.2 2.4 L9.8 3.2 L7.6 6.4 Z" fill="#505050" stroke="#505050" stroke-width="0.8"/></svg>
<div class="r" style="left:970px;top:1651px;width:24px;height:15px;box-sizing:border-box;background:linear-gradient(#fbfbfb,#e2e2e2);border-top:1px solid #f4f4f4;border-left:1px solid #eee;border-right:1px solid #888;border-bottom:1px solid #666;"></div>
<div class="t" style="left:980.00px;top:1654.19px;font-size:11px;line-height:11px;color:#111;font-weight:bold;transform:translateX(-50%);">7</div>
<svg class="r" style="left:987px;top:1652px;" width="5" height="7" viewBox="0 0 5 7"><path d="M1 1 L4 3.5 L1 6 Z" fill="#444" stroke="#000" stroke-width="1.1"/></svg>
<div class="r" style="left:345px;top:1672px;width:684px;height:1px;background:#e6e9ec;"></div>
<div class="t" style="left:348.40px;top:1680.34px;font-size:12px;line-height:12px;color:#444;letter-spacing:0.4px;">System Time(%)</div>
<div class="t" style="left:648.20px;top:1680.34px;font-size:12px;line-height:12px;color:#444;letter-spacing:0.4px;text-decoration:underline;">0</div>
<svg class="r" style="left:892px;top:1679px;" width="12" height="12" viewBox="0 0 12 12"><rect x="0.5" y="0.5" width="11" height="11" rx="1.5" fill="#fff" stroke="#666"/><path d="M4.2 9.6 Q3.2 5.6 7.6 4.4" stroke="#505050" stroke-width="1.8" fill="none"/><path d="M6.2 2.4 L9.8 3.2 L7.6 6.4 Z" fill="#505050" stroke="#505050" stroke-width="0.8"/></svg>
<div class="r" style="left:970px;top:1678px;width:24px;height:15px;box-sizing:border-box;background:linear-gradient(#fbfbfb,#e2e2e2);border-top:1px solid #f4f4f4;border-left:1px solid #eee;border-right:1px solid #888;border-bottom:1px solid #666;"></div>
<div class="t" style="left:980.00px;top:1681.19px;font-size:11px;line-height:11px;color:#111;font-weight:bold;transform:translateX(-50%);">7</div>
<svg class="r" style="left:987px;top:1679px;" width="5" height="7" viewBox="0 0 5 7"><path d="M1 1 L4 3.5 L1 6 Z" fill="#444" stroke="#000" stroke-width="1.1"/></svg>
<div class="r" style="left:345px;top:1699px;width:684px;height:1px;background:#e6e9ec;"></div>
<div class="t" style="left:348.40px;top:1707.34px;font-size:12px;line-height:12px;color:#444;letter-spacing:0.4px;">I/O Wait Time(%)</div>
<div class="t" style="left:648.20px;top:1707.34px;font-size:12px;line-height:12px;color:#444;letter-spacing:0.4px;text-decoration:underline;">0</div>
<svg class="r" style="left:892px;top:1706px;" width="12" height="12" viewBox="0 0 12 12"><rect x="0.5" y="0.5" width="11" height="11" rx="1.5" fill="#fff" stroke="#666"/><path d="M4.2 9.6 Q3.2 5.6 7.6 4.4" stroke="#505050" stroke-width="1.8" fill="none"/><path d="M6.2 2.4 L9.8 3.2 L7.6 6.4 Z" fill="#505050" stroke="#505050" stroke-width="0.8"/></svg>
<div class="r" style="left:970px;top:1705px;width:24px;height:15px;box-sizing:border-box;background:linear-gradient(#fbfbfb,#e2e2e2);border-top:1px solid #f4f4f4;border-left:1px solid #eee;border-right:1px solid #888;border-bottom:1px solid #666;"></div>
<div class="t" style="left:980.00px;top:1708.19px;font-size:11px;line-height:11px;color:#111;font-weight:bold;transform:translateX(-50%);">7</div>
<svg class="r" style="left:987px;top:1706px;" width="5" height="7" viewBox="0 0 5 7"><path d="M1 1 L4 3.5 L1 6 Z" fill="#444" stroke="#000" stroke-width="1.1"/></svg>
<div class="r" style="left:345px;top:1726px;width:684px;height:1px;background:#e6e9ec;"></div>
<div class="t" style="left:348.40px;top:1734.34px;font-size:12px;line-height:12px;color:#444;letter-spacing:0.4px;">Idle Time(%)</div>
<div class="t" style="left:648.20px;top:1734.34px;font-size:12px;line-height:12px;color:#444;letter-spacing:0.4px;text-decoration:underline;">99</div>
<svg class="r" style="left:892px;top:1733px;" width="12" height="12" viewBox="0 0 12 12"><rect x="0.5" y="0.5" width="11" height="11" rx="1.5" fill="#fff" stroke="#666"/><path d="M4.2 9.6 Q3.2 5.6 7.6 4.4" stroke="#505050" stroke-width="1.8" fill="none"/><path d="M6.2 2.4 L9.8 3.2 L7.6 6.4 Z" fill="#505050" stroke="#505050" stroke-width="0.8"/></svg>
<div class="r" style="left:970px;top:1732px;width:24px;height:15px;box-sizing:border-box;background:linear-gradient(#fbfbfb,#e2e2e2);border-top:1px solid #f4f4f4;border-left:1px solid #eee;border-right:1px solid #888;border-bottom:1px solid #666;"></div>
<div class="t" style="left:980.00px;top:1735.19px;font-size:11px;line-height:11px;color:#111;font-weight:bold;transform:translateX(-50%);">7</div>
<svg class="r" style="left:987px;top:1733px;" width="5" height="7" viewBox="0 0 5 7"><path d="M1 1 L4 3.5 L1 6 Z" fill="#444" stroke="#000" stroke-width="1.1"/></svg>
<div class="r" style="left:345px;top:1753px;width:684px;height:1px;background:#e6e9ec;"></div>
<div class="t" style="left:348.40px;top:1761.34px;font-size:12px;line-height:12px;color:#444;letter-spacing:0.4px;">Interrupts/sec</div>
<div class="t" style="left:648.20px;top:1761.34px;font-size:12px;line-height:12px;color:#444;letter-spacing:0.4px;text-decoration:underline;">59</div>
<svg class="r" style="left:892px;top:1760px;" width="12" height="12" viewBox="0 0 12 12"><rect x="0.5" y="0.5" width="11" height="11" rx="1.5" fill="#fff" stroke="#666"/><path d="M4.2 9.6 Q3.2 5.6 7.6 4.4" stroke="#505050" stroke-width="1.8" fill="none"/><path d="M6.2 2.4 L9.8 3.2 L7.6 6.4 Z" fill="#505050" stroke="#505050" stroke-width="0.8"/></svg>
<div class="r" style="left:970px;top:1759px;width:24px;height:15px;box-sizing:border-box;background:linear-gradient(#fbfbfb,#e2e2e2);border-top:1px solid #f4f4f4;border-left:1px solid #eee;border-right:1px solid #888;border-bottom:1px solid #666;"></div>
<div class="t" style="left:980.00px;top:1762.19px;font-size:11px;line-height:11px;color:#111;font-weight:bold;transform:translateX(-50%);">7</div>
<svg class="r" style="left:987px;top:1760px;" width="5" height="7" viewBox="0 0 5 7"><path d="M1 1 L4 3.5 L1 6 Z" fill="#444" stroke="#000" stroke-width="1.1"/></svg>
<div class="r" style="left:345px;top:1780px;width:684px;height:1px;background:#e6e9ec;"></div>
<div class="r" style="left:345px;top:1781px;width:684px;height:22px;background:#eef2f6;"></div>
<svg class="r" style="left:908px;top:1788px;" width="11" height="14" viewBox="0 0 11 14"><rect x="0.5" y="0.5" width="10" height="12.5" fill="#eaf4ff" stroke="#0d55c0"/><circle cx="5.5" cy="4.3" r="2.3" fill="#f02040" stroke="#000" stroke-width="1"/><circle cx="5.5" cy="8.9" r="2.3" fill="#20d020" stroke="#000" stroke-width="1"/></svg>
<div class="t" style="left:924.50px;top:1788.34px;font-size:12px;line-height:12px;color:#444;letter-spacing:0.4px;text-decoration:underline;">Configure Alarms</div>
<div class="r" style="left:231px;top:1836px;width:913px;height:436px;border:1px solid #d9e6ef;box-sizing:border-box;"></div>
<div class="r" style="left:232px;top:1837px;width:911px;height:22px;background:linear-gradient(#fbfdfe 0%,#f4f8fa 40%,#e8eff4 100%);"></div>
<div class="r" style="left:232px;top:1859px;width:911px;height:1px;background:#dbe7f0;"></div>
<div class="t" style="left:240.30px;top:1842.34px;font-size:12px;line-height:12px;color:#444;font-weight:bold;letter-spacing:0.75px;">System Load</div>
<svg class="r" style="left:439px;top:1878px;" width="540" height="166" viewBox="0 0 540 166"><rect x="0.5" y="0.5" width="539" height="162" fill="#fff" stroke="#cfcfcf"/><line x1="1" y1="136.0" x2="539" y2="136.0" stroke="#e2e2e2" stroke-dasharray="3,3"/><line x1="1" y1="109.8" x2="539" y2="109.8" stroke="#e2e2e2" stroke-dasharray="3,3"/><line x1="1" y1="83.5" x2="539" y2="83.5" stroke="#e2e2e2" stroke-dasharray="3,3"/><line x1="1" y1="57.3" x2="539" y2="57.3" stroke="#e2e2e2" stroke-dasharray="3,3"/><line x1="1" y1="31.0" x2="539" y2="31.0" stroke="#e2e2e2" stroke-dasharray="3,3"/><line x1="1" y1="4.8" x2="539" y2="4.8" stroke="#e2e2e2" stroke-dasharray="3,3"/><line x1="19.7" y1="1" x2="19.7" y2="162" stroke="#e2e2e2" stroke-dasharray="3,3"/><line x1="80.2" y1="1" x2="80.2" y2="162" stroke="#e2e2e2" stroke-dasharray="3,3"/><line x1="140.6" y1="1" x2="140.6" y2="162" stroke="#e2e2e2" stroke-dasharray="3,3"/><line x1="201.1" y1="1" x2="201.1" y2="162" stroke="#e2e2e2" stroke-dasharray="3,3"/><line x1="261.5" y1="1" x2="261.5" y2="162" stroke="#e2e2e2" stroke-dasharray="3,3"/><line x1="322.0" y1="1" x2="322.0" y2="162" stroke="#e2e2e2" stroke-dasharray="3,3"/><line x1="382.5" y1="1" x2="382.5" y2="162" stroke="#e2e2e2" stroke-dasharray="3,3"/><line x1="442.9" y1="1" x2="442.9" y2="162" stroke="#e2e2e2" stroke-dasharray="3,3"/><line x1="503.4" y1="1" x2="503.4" y2="162" stroke="#e2e2e2" stroke-dasharray="3,3"/><polyline points="11.0,162.3 14.2,153.4 19.5,156.6 22.3,101.0 25.3,162.3 31.3,162.3 37.7,162.3 41.3,119.8 44.7,162.3 47.3,114.2 52.6,147.6 56.9,147.6 61.4,104.8 64.4,145.9 67.6,160.8 71.9,71.1 75.5,67.2 78.9,104.2 80.4,160.8 83.6,162.3 85.8,149.1 89.4,160.8 91.5,151.2 94.3,162.3 97.5,162.3 100.3,88.2 102.2,162.3 105.4,152.3 109.3,151.2 111.4,160.8 114.6,108.5 117.4,150.2 120.0,114.2 122.5,145.9 125.3,91.4 128.1,137.3 131.1,72.1 133.8,154.4 137.1,154.4 142.4,125.6 145.0,160.8 150.3,32.6 155.2,128.8 158.4,73.2 161.6,134.1 164.8,113.4 167.0,116.0 170.2,96.3 173.0,162.3 177.7,160.8 184.1,155.5 186.2,118.1 189.4,101.0 192.6,162.3 196.9,121.3 200.7,158.7 205.4,155.5 208.7,160.8 214.0,96.3 219.3,162.3 225.7,162.3 229.0,151.2 234.3,159.8 237.5,144.8 239.6,160.8 242.2,113.4 245.0,162.3 250.3,101.0 256.3,147.4 258.9,142.7 267.4,143.7 270.2,109.1 272.8,126.6 276.0,128.8 278.1,130.9 281.3,151.2 284.5,130.9 287.7,139.5 290.9,139.5 293.1,154.4 296.3,132.0 298.4,133.1 301.6,159.8 303.7,43.3 306.3,160.8 310.2,145.9 314.0,143.7 317.6,130.9 320.8,159.8 325.1,154.4 328.3,145.9 331.5,160.8 335.8,155.5 340.1,156.6 345.4,161.9 351.8,151.2 355.0,160.8 359.3,128.8 362.5,149.1 367.9,160.8 371.1,160.8 374.3,151.2 378.5,134.1 383.9,151.2 387.1,121.3 390.3,143.7 395.6,161.9 399.9,142.7 403.1,153.4 408.5,161.9 411.7,101.0 414.9,87.1 419.2,161.9 423.4,122.4 426.6,161.9 429.8,144.8 434.1,161.9 437.3,145.9 439.5,151.2 442.2,121.3 445.9,120.2 449.1,121.3 451.2,145.9 454.4,98.9 457.6,90.3 460.4,20.9 462.3,110.6 465.7,92.4 468.3,118.1 473.7,161.9 476.9,148.0 479.0,161.9 484.3,99.9 487.5,141.6 490.7,95.0 494.0,154.4 498.2,160.8 501.4,155.5 504.6,158.7 507.8,153.4 511.1,152.3 514.3,145.9 516.0,149.1 518.5,109.1 521.7,160.8 523.9,161.9 526.7,102.1 529.9,137.3" fill="none" stroke="#22bb22" stroke-width="1.8" stroke-linejoin="round"/><polyline points="11.0,137.3 14.8,143.7 16.3,152.3 19.5,154.4 22.3,137.3 27.0,158.1 32.3,159.8 37.7,160.8 40.9,144.8 44.1,153.4 50.5,135.6 53.7,138.4 58.0,136.3 62.3,126.6 64.8,126.6 67.6,149.1 71.9,122.4 75.5,108.5 79.4,126.6 81.5,146.9 83.6,154.4 86.8,149.1 90.0,153.4 93.2,156.6 97.5,158.7 100.3,130.5 102.9,151.2 106.1,141.2 109.3,146.9 112.5,150.6 115.7,145.9 117.8,150.6 121.0,126.6 123.2,146.9 125.9,126.6 131.1,104.2 137.1,149.7 143.5,149.7 147.7,146.9 150.3,88.2 154.2,92.4 155.2,120.2 158.4,114.9 162.7,130.9 164.8,130.9 170.2,99.9 174.5,154.4 178.7,159.8 181.9,155.5 184.1,155.5 186.2,141.6 189.4,135.2 192.6,146.9 196.9,125.6 201.2,143.7 204.4,145.9 207.6,145.9 210.8,155.5 214.0,120.2 218.3,154.4 224.7,161.9 227.9,142.7 231.1,139.5 234.3,150.2 237.5,133.1 239.6,143.7 242.2,120.2 246.1,144.8 250.3,126.6 254.6,132.0 257.8,142.7 267.4,137.3 272.8,127.7 276.0,139.0 279.2,125.6 282.4,134.1 286.6,133.1 290.5,113.8 293.1,132.0 298.4,118.1 301.6,144.8 303.7,97.8 306.9,135.2 311.2,135.2 314.4,154.4 317.6,125.6 320.8,141.6 324.0,150.2 328.3,134.1 331.5,145.9 335.8,151.2 340.1,154.9 345.4,156.6 348.6,155.5 352.9,156.6 355.0,146.9 359.3,146.9 362.5,106.3 365.7,141.6 370.0,156.6 373.2,142.7 378.5,146.9 382.8,151.2 387.1,122.4 390.3,134.1 392.4,133.1 395.6,151.2 399.9,142.7 404.2,125.6 407.4,150.2 412.7,125.6 415.9,127.7 420.2,154.4 423.4,139.5 426.6,152.3 429.8,134.1 434.1,155.5 437.3,149.1 440.5,151.2 442.2,124.5 445.9,137.3 451.2,139.5 454.4,72.1 457.6,88.2 460.4,67.9 462.3,103.1 465.7,48.6 468.3,104.2 473.7,147.6 476.9,134.1 479.4,152.3 484.3,95.7 487.5,129.8 490.7,106.3 495.0,139.5 498.2,153.4 501.4,146.9 505.7,146.9 508.9,150.2 512.8,135.2 515.3,143.7 518.5,118.1 524.3,156.6 526.7,142.7 529.9,142.7" fill="none" stroke="#2a2ab8" stroke-width="1.8" stroke-linejoin="round"/><polyline points="11.0,120.2 14.8,127.7 18.4,139.5 22.7,145.9 27.0,153.4 31.3,154.4 36.6,157.6 41.9,153.4 47.3,150.2 51.6,144.8 56.9,141.2 61.2,135.6 66.5,139.5 71.9,133.1 75.5,125.6 78.3,126.2 81.5,139.5 85.8,143.7 90.0,145.9 97.5,154.4 100.7,145.9 107.1,145.9 112.5,148.0 117.8,145.9 123.2,143.7 128.5,125.6 131.7,122.4 137.1,137.3 142.4,144.8 147.7,145.9 150.9,126.6 154.2,110.6 158.4,120.2 162.7,124.5 167.0,124.5 170.2,110.6 174.5,133.1 178.7,143.7 183.0,148.0 188.3,143.7 192.6,143.7 198.0,137.3 202.2,140.5 206.5,142.7 211.9,145.9 214.0,137.3 220.4,151.2 225.7,156.6 229.0,145.9 235.4,139.5 239.6,139.5 245.0,134.1 250.3,128.8 255.7,139.5 258.9,133.1 269.5,138.4 273.8,132.0 278.1,135.2 282.4,133.1 286.6,134.1 290.9,125.6 296.3,130.9 301.6,124.5 304.8,125.6 309.1,129.8 313.4,132.0 318.7,134.1 323.0,142.7 328.3,141.6 332.6,144.8 336.9,149.1 342.2,150.2 346.5,154.4 352.9,156.6 356.1,149.1 359.3,150.2 362.5,126.6 366.8,138.4 371.1,144.8 375.3,142.7 380.7,149.1 385.0,141.6 389.2,135.2 394.6,138.4 398.8,139.5 403.1,142.7 408.5,139.5 412.7,133.1 417.0,134.1 422.4,140.5 426.6,141.6 432.0,146.9 436.3,150.2 440.5,150.2 443.7,137.3 449.1,139.5 454.4,107.4 457.6,105.3 460.8,94.6 465.1,74.3 469.4,93.5 473.7,121.3 476.9,125.6 480.1,135.2 483.3,133.1 486.5,116.0 490.7,111.7 495.0,127.7 500.4,139.5 504.6,141.6 508.9,143.7 513.2,139.5 517.5,128.8 521.7,141.6 526.0,144.8 529.9,145.5" fill="none" stroke="#cc22cc" stroke-width="1.6" stroke-linejoin="round"/></svg>
<div class="r" style="left:436px;top:2040px;width:3px;height:1px;background:#888;"></div>
<div class="t" style="left:433.50px;top:2035.71px;font-size:10.5px;line-height:10.5px;color:#666;letter-spacing:0.6px;transform:translateX(-100%);">0</div>
<div class="r" style="left:436px;top:2014px;width:3px;height:1px;background:#888;"></div>
<div class="t" style="left:433.50px;top:2009.46px;font-size:10.5px;line-height:10.5px;color:#666;letter-spacing:0.6px;transform:translateX(-100%);">20</div>
<div class="r" style="left:436px;top:1988px;width:3px;height:1px;background:#888;"></div>
<div class="t" style="left:433.50px;top:1983.21px;font-size:10.5px;line-height:10.5px;color:#666;letter-spacing:0.6px;transform:translateX(-100%);">40</div>
<div class="r" style="left:436px;top:1962px;width:3px;height:1px;background:#888;"></div>
<div class="t" style="left:433.50px;top:1956.96px;font-size:10.5px;line-height:10.5px;color:#666;letter-spacing:0.6px;transform:translateX(-100%);">60</div>
<div class="r" style="left:436px;top:1935px;width:3px;height:1px;background:#888;"></div>
<div class="t" style="left:433.50px;top:1930.71px;font-size:10.5px;line-height:10.5px;color:#666;letter-spacing:0.6px;transform:translateX(-100%);">80</div>
<div class="r" style="left:436px;top:1909px;width:3px;height:1px;background:#888;"></div>
<div class="t" style="left:433.50px;top:1904.46px;font-size:10.5px;line-height:10.5px;color:#666;letter-spacing:0.6px;transform:translateX(-100%);">100</div>
<div class="r" style="left:436px;top:1883px;width:3px;height:1px;background:#888;"></div>
<div class="t" style="left:433.50px;top:1878.21px;font-size:10.5px;line-height:10.5px;color:#666;letter-spacing:0.6px;transform:translateX(-100%);">120</div>
<div class="r" style="left:459px;top:2041px;width:1px;height:3px;background:#888;"></div>
<div class="t" style="left:458.70px;top:2043.91px;font-size:10.5px;line-height:10.5px;color:#666;letter-spacing:0.55px;transform:translateX(-50%);">06:00</div>
<div class="r" style="left:519px;top:2041px;width:1px;height:3px;background:#888;"></div>
<div class="t" style="left:519.16px;top:2043.91px;font-size:10.5px;line-height:10.5px;color:#666;letter-spacing:0.55px;transform:translateX(-50%);">08:00</div>
<div class="r" style="left:580px;top:2041px;width:1px;height:3px;background:#888;"></div>
<div class="t" style="left:579.62px;top:2043.91px;font-size:10.5px;line-height:10.5px;color:#666;letter-spacing:0.55px;transform:translateX(-50%);">10:00</div>
<div class="r" style="left:640px;top:2041px;width:1px;height:3px;background:#888;"></div>
<div class="t" style="left:640.08px;top:2043.91px;font-size:10.5px;line-height:10.5px;color:#666;letter-spacing:0.55px;transform:translateX(-50%);">12:00</div>
<div class="r" style="left:701px;top:2041px;width:1px;height:3px;background:#888;"></div>
<div class="t" style="left:700.54px;top:2043.91px;font-size:10.5px;line-height:10.5px;color:#666;letter-spacing:0.55px;transform:translateX(-50%);">14:00</div>
<div class="r" style="left:761px;top:2041px;width:1px;height:3px;background:#888;"></div>
<div class="t" style="left:761.00px;top:2043.91px;font-size:10.5px;line-height:10.5px;color:#666;letter-spacing:0.55px;transform:translateX(-50%);">16:00</div>
<div class="r" style="left:821px;top:2041px;width:1px;height:3px;background:#888;"></div>
<div class="t" style="left:821.46px;top:2043.91px;font-size:10.5px;line-height:10.5px;color:#666;letter-spacing:0.55px;transform:translateX(-50%);">18:00</div>
<div class="r" style="left:882px;top:2041px;width:1px;height:3px;background:#888;"></div>
<div class="t" style="left:881.92px;top:2043.91px;font-size:10.5px;line-height:10.5px;color:#666;letter-spacing:0.55px;transform:translateX(-50%);">20:00</div>
<div class="r" style="left:942px;top:2041px;width:1px;height:3px;background:#888;"></div>
<div class="t" style="left:942.38px;top:2043.91px;font-size:10.5px;line-height:10.5px;color:#666;letter-spacing:0.55px;transform:translateX(-50%);">22:00</div>
<div class="t" style="left:404.7px;top:1959.3px;font-size:11px;line-height:11px;color:#666;letter-spacing:0.6px;transform:translate(-50%,-50%) rotate(-90deg);">Number of Jobs</div>
<div class="t" style="left:709.20px;top:2060.19px;font-size:11px;line-height:11px;color:#666;letter-spacing:1.2px;transform:translateX(-50%);">Time</div>
<div class="r" style="left:519px;top:2080px;width:337px;height:20px;box-sizing:border-box;border:1px solid #b0b0b0;background:#fff;"></div>
<div class="r" style="left:522px;top:2090px;width:16px;height:2px;background:#22bb22;"></div>
<div class="t" style="left:539.50px;top:2084.89px;font-size:11px;line-height:11px;color:#666;letter-spacing:0.313px;">Jobs in Minute</div>
<div class="r" style="left:618px;top:2090px;width:20px;height:2px;background:#2a2ab8;"></div>
<div class="t" style="left:640.00px;top:2084.89px;font-size:11px;line-height:11px;color:#666;letter-spacing:0.212px;">Jobs in 5 Minutes</div>
<div class="r" style="left:732px;top:2090px;width:20px;height:2px;background:#cc22cc;"></div>
<div class="t" style="left:754.50px;top:2084.89px;font-size:11px;line-height:11px;color:#666;letter-spacing:0.281px;">Jobs in 15 Minutes</div>
<div class="r" style="left:344px;top:2136px;width:686px;height:125px;border:1px solid #dde7f0;box-sizing:border-box;"></div>
<div class="r" style="left:345px;top:2137px;width:684px;height:19px;background:#edf2fc;"></div>
<div class="r" style="left:345px;top:2156px;width:684px;height:1px;background:#dde6f0;"></div>
<div class="t" style="left:348.30px;top:2140.84px;font-size:12px;line-height:12px;color:#444;font-weight:bold;letter-spacing:0.75px;">Parameter Name</div>
<div class="t" style="left:576.20px;top:2140.84px;font-size:12px;line-height:12px;color:#444;font-weight:bold;letter-spacing:0.75px;">Current Value</div>
<div class="t" style="left:762.00px;top:2140.84px;font-size:12px;line-height:12px;color:#444;font-weight:bold;letter-spacing:0.75px;">Peak Value</div>
<div class="t" style="left:913.70px;top:2140.84px;font-size:12px;line-height:12px;color:#444;font-weight:bold;letter-spacing:0.75px;">Status</div>
<div class="t" style="left:348.30px;top:2164.34px;font-size:12px;line-height:12px;color:#444;letter-spacing:0.4px;">Jobs in Minute</div>
<div class="t" style="left:576.20px;top:2164.34px;font-size:12px;line-height:12px;color:#444;letter-spacing:0.4px;text-decoration:underline;">19</div>
<div class="t" style="left:762.00px;top:2164.34px;font-size:12px;line-height:12px;color:#444;letter-spacing:0.4px;">45</div>
<svg class="r" style="left:914px;top:2163px;" width="12" height="12" viewBox="0 0 12 12"><rect x="0.5" y="0.5" width="11" height="11" rx="1.5" fill="#fff" stroke="#666"/><path d="M4.2 9.6 Q3.2 5.6 7.6 4.4" stroke="#505050" stroke-width="1.8" fill="none"/><path d="M6.2 2.4 L9.8 3.2 L7.6 6.4 Z" fill="#505050" stroke="#505050" stroke-width="0.8"/></svg>
<div class="r" style="left:963px;top:2162px;width:24px;height:15px;box-sizing:border-box;background:linear-gradient(#fbfbfb,#e2e2e2);border-top:1px solid #f4f4f4;border-left:1px solid #eee;border-right:1px solid #888;border-bottom:1px solid #666;"></div>
<div class="t" style="left:973.00px;top:2165.19px;font-size:11px;line-height:11px;color:#111;font-weight:bold;transform:translateX(-50%);">7</div>
<svg class="r" style="left:980px;top:2163px;" width="5" height="7" viewBox="0 0 5 7"><path d="M1 1 L4 3.5 L1 6 Z" fill="#444" stroke="#000" stroke-width="1.1"/></svg>
<div class="r" style="left:345px;top:2183px;width:684px;height:1px;background:#e6e9ec;"></div>
<div class="t" style="left:348.30px;top:2191.34px;font-size:12px;line-height:12px;color:#444;letter-spacing:0.4px;">Jobs in 5 Minutes</div>
<div class="t" style="left:576.20px;top:2191.34px;font-size:12px;line-height:12px;color:#444;letter-spacing:0.4px;text-decoration:underline;">15</div>
<div class="t" style="left:762.00px;top:2191.34px;font-size:12px;line-height:12px;color:#444;letter-spacing:0.4px;">34</div>
<svg class="r" style="left:914px;top:2190px;" width="12" height="12" viewBox="0 0 12 12"><rect x="0.5" y="0.5" width="11" height="11" rx="1.5" fill="#fff" stroke="#666"/><path d="M4.2 9.6 Q3.2 5.6 7.6 4.4" stroke="#505050" stroke-width="1.8" fill="none"/><path d="M6.2 2.4 L9.8 3.2 L7.6 6.4 Z" fill="#505050" stroke="#505050" stroke-width="0.8"/></svg>
<div class="r" style="left:963px;top:2189px;width:24px;height:15px;box-sizing:border-box;background:linear-gradient(#fbfbfb,#e2e2e2);border-top:1px solid #f4f4f4;border-left:1px solid #eee;border-right:1px solid #888;border-bottom:1px solid #666;"></div>
<div class="t" style="left:973.00px;top:2192.19px;font-size:11px;line-height:11px;color:#111;font-weight:bold;transform:translateX(-50%);">7</div>
<svg class="r" style="left:980px;top:2190px;" width="5" height="7" viewBox="0 0 5 7"><path d="M1 1 L4 3.5 L1 6 Z" fill="#444" stroke="#000" stroke-width="1.1"/></svg>
<div class="r" style="left:345px;top:2210px;width:684px;height:1px;background:#e6e9ec;"></div>
<div class="t" style="left:348.30px;top:2218.34px;font-size:12px;line-height:12px;color:#444;letter-spacing:0.4px;">Jobs in 15 Minutes</div>
<div class="t" style="left:576.20px;top:2218.34px;font-size:12px;line-height:12px;color:#444;letter-spacing:0.4px;text-decoration:underline;">13</div>
<div class="t" style="left:762.00px;top:2218.34px;font-size:12px;line-height:12px;color:#444;letter-spacing:0.4px;">23</div>
<svg class="r" style="left:914px;top:2217px;" width="12" height="12" viewBox="0 0 12 12"><rect x="0.5" y="0.5" width="11" height="11" rx="1.5" fill="#fff" stroke="#666"/><path d="M4.2 9.6 Q3.2 5.6 7.6 4.4" stroke="#505050" stroke-width="1.8" fill="none"/><path d="M6.2 2.4 L9.8 3.2 L7.6 6.4 Z" fill="#505050" stroke="#505050" stroke-width="0.8"/></svg>
<div class="r" style="left:963px;top:2216px;width:24px;height:15px;box-sizing:border-box;background:linear-gradient(#fbfbfb,#e2e2e2);border-top:1px solid #f4f4f4;border-left:1px solid #eee;border-right:1px solid #888;border-bottom:1px solid #666;"></div>
<div class="t" style="left:973.00px;top:2219.19px;font-size:11px;line-height:11px;color:#111;font-weight:bold;transform:translateX(-50%);">7</div>
<svg class="r" style="left:980px;top:2217px;" width="5" height="7" viewBox="0 0 5 7"><path d="M1 1 L4 3.5 L1 6 Z" fill="#444" stroke="#000" stroke-width="1.1"/></svg>
<div class="r" style="left:345px;top:2237px;width:684px;height:1px;background:#e6e9ec;"></div>
<div class="r" style="left:345px;top:2238px;width:684px;height:22px;background:#eef2f6;"></div>
<svg class="r" style="left:908px;top:2246px;" width="11" height="14" viewBox="0 0 11 14"><rect x="0.5" y="0.5" width="10" height="12.5" fill="#eaf4ff" stroke="#0d55c0"/><circle cx="5.5" cy="4.3" r="2.3" fill="#f02040" stroke="#000" stroke-width="1"/><circle cx="5.5" cy="8.9" r="2.3" fill="#20d020" stroke="#000" stroke-width="1"/></svg>
<div class="t" style="left:924.50px;top:2245.34px;font-size:12px;line-height:12px;color:#444;letter-spacing:0.4px;text-decoration:underline;">Configure Alarms</div>
<div class="r" style="left:231px;top:2314px;width:913px;height:99px;border:1px solid #d9e6ef;box-sizing:border-box;"></div>
<div class="r" style="left:232px;top:2315px;width:911px;height:21px;background:linear-gradient(#fbfdfe 0%,#f4f8fa 40%,#e8eff4 100%);"></div>
<div class="r" style="left:232px;top:2336px;width:911px;height:1px;background:#dbe7f0;"></div>
<div class="t" style="left:236.70px;top:2320.34px;font-size:12px;line-height:12px;color:#444;font-weight:bold;letter-spacing:0.75px;">Page Space</div>
<div class="t" style="left:235.40px;top:2344.14px;font-size:12px;line-height:12px;color:#444;font-weight:bold;letter-spacing:0.75px;">Page Space</div>
<div class="t" style="left:399.10px;top:2344.14px;font-size:12px;line-height:12px;color:#444;font-weight:bold;letter-spacing:0.75px;">Size (MB)</div>
<div class="t" style="left:508.30px;top:2344.14px;font-size:12px;line-height:12px;color:#444;font-weight:bold;letter-spacing:0.75px;">Used (%)</div>
<div class="t" style="left:617.60px;top:2344.14px;font-size:12px;line-height:12px;color:#444;font-weight:bold;letter-spacing:0.75px;">Used (MB)</div>
<div class="t" style="left:727.60px;top:2344.14px;font-size:12px;line-height:12px;color:#444;font-weight:bold;letter-spacing:0.75px;">Free (%)</div>
<div class="t" style="left:836.20px;top:2344.14px;font-size:12px;line-height:12px;color:#444;font-weight:bold;letter-spacing:0.75px;">Free (MB)</div>
<div class="t" style="left:945.50px;top:2344.14px;font-size:12px;line-height:12px;color:#444;font-weight:bold;letter-spacing:0.75px;">Health</div>
<div class="t" style="left:1055.60px;top:2344.14px;font-size:12px;line-height:12px;color:#444;font-weight:bold;letter-spacing:0.75px;">Threshold</div>
<div class="r" style="left:232px;top:2363px;width:911px;height:1px;background:#e3e8ed;"></div>
<div class="t" style="left:235.40px;top:2371.04px;font-size:12px;line-height:12px;color:#444;letter-spacing:0.4px;">hd6</div>
<div class="t" style="left:399.10px;top:2371.04px;font-size:12px;line-height:12px;color:#444;letter-spacing:0.4px;text-decoration:underline;">512</div>
<div class="t" style="left:508.30px;top:2371.04px;font-size:12px;line-height:12px;color:#444;letter-spacing:0.4px;text-decoration:underline;">3</div>
<div class="t" style="left:617.60px;top:2371.04px;font-size:12px;line-height:12px;color:#444;letter-spacing:0.4px;text-decoration:underline;">15</div>
<div class="t" style="left:727.60px;top:2371.04px;font-size:12px;line-height:12px;color:#444;letter-spacing:0.4px;text-decoration:underline;">97</div>
<div class="t" style="left:836.20px;top:2371.04px;font-size:12px;line-height:12px;color:#444;letter-spacing:0.4px;text-decoration:underline;">497</div>
<svg class="r" style="left:991px;top:2371px;" width="12" height="12" viewBox="0 0 12 12"><rect x="0.5" y="0.5" width="11" height="11" rx="1.5" fill="#fff" stroke="#666"/><path d="M4.2 9.6 Q3.2 5.6 7.6 4.4" stroke="#505050" stroke-width="1.8" fill="none"/><path d="M6.2 2.4 L9.8 3.2 L7.6 6.4 Z" fill="#505050" stroke="#505050" stroke-width="0.8"/></svg>
<svg class="r" style="left:1093px;top:2370px;" width="11" height="14" viewBox="0 0 11 14"><rect x="0.5" y="0.5" width="10" height="12.5" fill="#eaf4ff" stroke="#0d55c0"/><circle cx="5.5" cy="4.3" r="2.3" fill="#f02040" stroke="#000" stroke-width="1"/><circle cx="5.5" cy="8.9" r="2.3" fill="#20d020" stroke="#000" stroke-width="1"/></svg>
<div class="r" style="left:232px;top:2390px;width:911px;height:1px;background:#e3e8ed;"></div>
<div class="r" style="left:232px;top:2391px;width:911px;height:21px;background:#eef2f6;"></div>
<div class="t" style="left:1116.00px;top:2399.27px;font-size:11.5px;line-height:11.5px;color:#444;letter-spacing:0.4px;text-decoration:underline;">Top</div>
<div class="r" style="left:231px;top:2455px;width:913px;height:73px;border:1px solid #d9e6ef;box-sizing:border-box;"></div>
<div class="r" style="left:232px;top:2456px;width:911px;height:22px;background:linear-gradient(#fbfdfe 0%,#f4f8fa 40%,#e8eff4 100%);"></div>
<div class="r" style="left:232px;top:2478px;width:911px;height:1px;background:#dbe7f0;"></div>
<div class="t" style="left:236.70px;top:2461.34px;font-size:12px;line-height:12px;color:#444;font-weight:bold;letter-spacing:0.75px;">Process Details</div>
<div class="t" style="left:1139.00px;top:2461.34px;font-size:12px;line-height:12px;color:#444;font-weight:bold;letter-spacing:0.7px;text-decoration:underline;transform:translateX(-100%);">Add New Process</div>
<div class="t" style="left:682.00px;top:2485.84px;font-size:12px;line-height:12px;color:#444;letter-spacing:0.4px;transform:translateX(-100%);">No Process is added.</div>
<div class="t" style="left:686.50px;top:2485.84px;font-size:12px;line-height:12px;color:#444;letter-spacing:0.4px;text-decoration:underline;">Click to add process.</div>
<div class="r" style="left:232px;top:2505px;width:911px;height:22px;background:#eef2f6;"></div>
<div class="t" style="left:1116.00px;top:2512.57px;font-size:11.5px;line-height:11.5px;color:#444;letter-spacing:0.4px;text-decoration:underline;">Top</div>
<div class="r" style="left:231px;top:2549px;width:913px;height:50px;border:1px solid #d9e6ef;box-sizing:border-box;"></div>
<div class="r" style="left:232px;top:2550px;width:911px;height:21px;background:linear-gradient(#fbfdfe 0%,#f4f8fa 40%,#e8eff4 100%);"></div>
<div class="r" style="left:232px;top:2571px;width:911px;height:1px;background:#dbe7f0;"></div>
<div class="t" style="left:236.70px;top:2554.84px;font-size:12px;line-height:12px;color:#444;font-weight:bold;letter-spacing:0.75px;">Monitors in this System</div>
<div class="t" style="left:1139.00px;top:2555.34px;font-size:12px;line-height:12px;color:#444;font-weight:bold;letter-spacing:0.7px;text-decoration:underline;transform:translateX(-100%);">Add Monitors</div>
<div class="t" style="left:741.00px;top:2579.34px;font-size:12px;line-height:12px;color:#444;letter-spacing:0.4px;transform:translateX(-100%);">No monitors found on this server.</div>
<div class="t" style="left:745.50px;top:2579.34px;font-size:12px;line-height:12px;color:#444;letter-spacing:0.4px;text-decoration:underline;">Add Monitors</div>
<div class="t" style="left:227.50px;top:2619.04px;font-size:12px;line-height:12px;color:#444;letter-spacing:0.45px;">Server responded in </div>
<div class="t" style="left:349.50px;top:2619.04px;font-size:12px;line-height:12px;color:#444;font-weight:bold;letter-spacing:0.6px;">1,191</div>
<div class="t" style="left:385.50px;top:2619.04px;font-size:12px;line-height:12px;color:#444;letter-spacing:0.45px;"> milliseconds.</div>
<div class="t" style="left:1146.50px;top:2619.04px;font-size:12px;line-height:12px;color:#444;letter-spacing:0.42px;transform:translateX(-100%);">Server System Time : Sep 12, 2012 6:41:08 AM</div>
<div class="t" style="left:575.00px;top:2633.94px;font-size:12px;line-height:12px;color:#444;letter-spacing:0.42px;">Switch to : Mobile view | </div>
<div class="t" style="left:719.50px;top:2633.94px;font-size:12px;line-height:12px;color:#444;font-weight:bold;letter-spacing:0.7px;">Classic view</div>
<div class="t" style="left:686.00px;top:2654.54px;font-size:12px;line-height:12px;color:#444;letter-spacing:0.42px;transform:translateX(-50%);">© 2012 ZOHO Corp.</div>
</body></html>
